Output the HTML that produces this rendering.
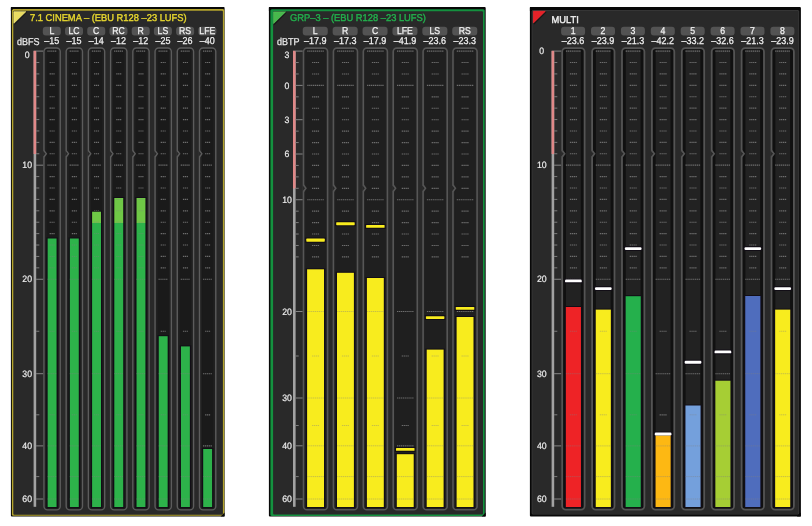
<!DOCTYPE html>
<html><head><meta charset="utf-8"><title>Meters</title>
<style>
html,body{margin:0;padding:0;background:#fff;}
svg{display:block;font-family:"Liberation Sans",sans-serif;text-rendering:geometricPrecision;}
</style></head><body>
<svg width="812" height="526" viewBox="0 0 812 526">
<rect x="10.90" y="7.00" width="213.70" height="509.50" fill="#080808" rx="1"/>
<rect x="11.90" y="8.90" width="212.40" height="506.90" fill="#b4a42c" rx="1.5"/>
<rect x="13.30" y="10.80" width="209.60" height="503.90" fill="#292929" rx="1"/>
<path d="M10.9,7 h4 l-4,4 z M224.6,516.5 h-4 l4,-4 z" fill="#080808"/>
<path d="M26.50,12.10 l-12.2,12.2" stroke="#101010" stroke-width="1.4" fill="none" opacity="0.7"/>
<path d="M13.9,11.7 h11.9 l-11.9,11.6 z" fill="#e9dc62" stroke="#f3ea7a" stroke-width="0.7" stroke-linejoin="round"/>
<text transform="translate(30.00,21.20) scale(0.945,1)" fill="#e6d62e" stroke="#e6d62e" stroke-width="0.4" font-size="9.9" letter-spacing="0" text-anchor="start">7.1 CINEMA – (EBU R128 –23 LUFS)</text>
<text transform="translate(17.00,44.50) scale(0.9,1)" fill="#ececec" stroke="#ececec" stroke-width="0.25" font-size="10" letter-spacing="0" text-anchor="start">dBFS</text>
<rect x="33.60" y="50.80" width="2.60" height="456.00" fill="#a2a2a2"/>
<rect x="33.60" y="50.80" width="2.60" height="103.20" fill="#e08888"/>
<line x1="36.10" y1="51.10" x2="43.25" y2="51.10" stroke="#858585" stroke-width="1" />
<line x1="36.10" y1="62.51" x2="39.30" y2="62.51" stroke="#7c7c7c" stroke-width="1" />
<line x1="36.10" y1="73.92" x2="39.30" y2="73.92" stroke="#7c7c7c" stroke-width="1" />
<line x1="36.10" y1="85.32" x2="39.30" y2="85.32" stroke="#7c7c7c" stroke-width="1" />
<line x1="36.10" y1="96.73" x2="39.30" y2="96.73" stroke="#7c7c7c" stroke-width="1" />
<line x1="36.10" y1="108.14" x2="39.30" y2="108.14" stroke="#7c7c7c" stroke-width="1" />
<line x1="36.10" y1="119.55" x2="39.30" y2="119.55" stroke="#7c7c7c" stroke-width="1" />
<line x1="36.10" y1="130.95" x2="39.30" y2="130.95" stroke="#7c7c7c" stroke-width="1" />
<line x1="36.10" y1="142.36" x2="39.30" y2="142.36" stroke="#7c7c7c" stroke-width="1" />
<line x1="36.10" y1="153.77" x2="39.30" y2="153.77" stroke="#7c7c7c" stroke-width="1" />
<line x1="36.10" y1="165.18" x2="43.25" y2="165.18" stroke="#858585" stroke-width="1" />
<line x1="36.10" y1="176.58" x2="39.30" y2="176.58" stroke="#7c7c7c" stroke-width="1" />
<line x1="36.10" y1="187.99" x2="39.30" y2="187.99" stroke="#7c7c7c" stroke-width="1" />
<line x1="36.10" y1="199.40" x2="39.30" y2="199.40" stroke="#7c7c7c" stroke-width="1" />
<line x1="36.10" y1="210.80" x2="39.30" y2="210.80" stroke="#7c7c7c" stroke-width="1" />
<line x1="36.10" y1="222.21" x2="39.30" y2="222.21" stroke="#7c7c7c" stroke-width="1" />
<line x1="36.10" y1="233.62" x2="39.30" y2="233.62" stroke="#7c7c7c" stroke-width="1" />
<line x1="36.10" y1="245.03" x2="39.30" y2="245.03" stroke="#7c7c7c" stroke-width="1" />
<line x1="36.10" y1="256.44" x2="39.30" y2="256.44" stroke="#7c7c7c" stroke-width="1" />
<line x1="36.10" y1="267.84" x2="39.30" y2="267.84" stroke="#7c7c7c" stroke-width="1" />
<line x1="36.10" y1="279.25" x2="43.25" y2="279.25" stroke="#858585" stroke-width="1" />
<line x1="36.10" y1="331.25" x2="39.30" y2="331.25" stroke="#7c7c7c" stroke-width="1" />
<line x1="36.10" y1="373.70" x2="43.25" y2="373.70" stroke="#858585" stroke-width="1" />
<line x1="36.10" y1="414.80" x2="39.30" y2="414.80" stroke="#7c7c7c" stroke-width="1" />
<line x1="36.10" y1="445.90" x2="43.25" y2="445.90" stroke="#858585" stroke-width="1" />
<line x1="36.10" y1="476.60" x2="39.30" y2="476.60" stroke="#7c7c7c" stroke-width="1" />
<line x1="36.10" y1="499.00" x2="43.25" y2="499.00" stroke="#858585" stroke-width="1" />
<text transform="translate(27.20,58.30) scale(0.95,1)" fill="#ececec" stroke="#ececec" stroke-width="0.2" font-size="9.2" letter-spacing="0" text-anchor="middle">0</text>
<text transform="translate(27.20,168.38) scale(0.95,1)" fill="#ececec" stroke="#ececec" stroke-width="0.2" font-size="9.2" letter-spacing="0" text-anchor="middle">10</text>
<text transform="translate(27.20,282.45) scale(0.95,1)" fill="#ececec" stroke="#ececec" stroke-width="0.2" font-size="9.2" letter-spacing="0" text-anchor="middle">20</text>
<text transform="translate(27.20,376.90) scale(0.95,1)" fill="#ececec" stroke="#ececec" stroke-width="0.2" font-size="9.2" letter-spacing="0" text-anchor="middle">30</text>
<text transform="translate(27.20,449.10) scale(0.95,1)" fill="#ececec" stroke="#ececec" stroke-width="0.2" font-size="9.2" letter-spacing="0" text-anchor="middle">40</text>
<text transform="translate(27.20,502.20) scale(0.95,1)" fill="#ececec" stroke="#ececec" stroke-width="0.2" font-size="9.2" letter-spacing="0" text-anchor="middle">60</text>
<rect x="42.80" y="26.80" width="18.00" height="8.60" fill="#535353" rx="3"/>
<text transform="translate(51.80,34.10) scale(0.88,1)" fill="#f2f2f2" stroke="#f2f2f2" stroke-width="0.25" font-size="9.9" letter-spacing="0" text-anchor="middle">L</text>
<text transform="translate(51.80,44.30) scale(0.9,1)" fill="#f2f2f2" stroke="#f2f2f2" stroke-width="0.25" font-size="10" letter-spacing="0" text-anchor="middle">–15</text>
<rect x="43.95" y="48.00" width="16.30" height="461.90" rx="3.6" fill="#202020" stroke="#5c5c5c" stroke-width="1.4"/>
<rect x="46.50" y="49.00" width="11.20" height="459.90" fill="#1a1a1a" rx="1"/>
<rect x="43.05" y="151.17" width="1.80" height="5.20" fill="#292929"/>
<rect x="44.65" y="151.17" width="1.40" height="5.20" fill="#202020"/>
<path d="M43.95,150.57 l2.4,3.2 l-2.4,3.2" fill="none" stroke="#5c5c5c" stroke-width="1.4"/>
<line x1="47.40" y1="51.10" x2="56.80" y2="51.10" stroke="#6e6e6e" stroke-width="1.15" stroke-dasharray="1.3 0.6"/>
<line x1="49.60" y1="62.51" x2="54.60" y2="62.51" stroke="#6e6e6e" stroke-width="1.15" stroke-dasharray="1.3 0.6"/>
<line x1="49.60" y1="73.92" x2="54.60" y2="73.92" stroke="#6e6e6e" stroke-width="1.15" stroke-dasharray="1.3 0.6"/>
<line x1="49.60" y1="85.32" x2="54.60" y2="85.32" stroke="#6e6e6e" stroke-width="1.15" stroke-dasharray="1.3 0.6"/>
<line x1="49.60" y1="96.73" x2="54.60" y2="96.73" stroke="#6e6e6e" stroke-width="1.15" stroke-dasharray="1.3 0.6"/>
<line x1="49.60" y1="108.14" x2="54.60" y2="108.14" stroke="#6e6e6e" stroke-width="1.15" stroke-dasharray="1.3 0.6"/>
<line x1="49.60" y1="119.55" x2="54.60" y2="119.55" stroke="#6e6e6e" stroke-width="1.15" stroke-dasharray="1.3 0.6"/>
<line x1="49.60" y1="130.95" x2="54.60" y2="130.95" stroke="#6e6e6e" stroke-width="1.15" stroke-dasharray="1.3 0.6"/>
<line x1="49.60" y1="142.36" x2="54.60" y2="142.36" stroke="#6e6e6e" stroke-width="1.15" stroke-dasharray="1.3 0.6"/>
<line x1="49.60" y1="153.77" x2="54.60" y2="153.77" stroke="#6e6e6e" stroke-width="1.15" stroke-dasharray="1.3 0.6"/>
<line x1="47.40" y1="165.18" x2="56.80" y2="165.18" stroke="#6e6e6e" stroke-width="1.15" stroke-dasharray="1.3 0.6"/>
<line x1="49.60" y1="176.58" x2="54.60" y2="176.58" stroke="#6e6e6e" stroke-width="1.15" stroke-dasharray="1.3 0.6"/>
<line x1="49.60" y1="187.99" x2="54.60" y2="187.99" stroke="#6e6e6e" stroke-width="1.15" stroke-dasharray="1.3 0.6"/>
<line x1="49.60" y1="199.40" x2="54.60" y2="199.40" stroke="#6e6e6e" stroke-width="1.15" stroke-dasharray="1.3 0.6"/>
<line x1="49.60" y1="210.80" x2="54.60" y2="210.80" stroke="#6e6e6e" stroke-width="1.15" stroke-dasharray="1.3 0.6"/>
<line x1="49.60" y1="222.21" x2="54.60" y2="222.21" stroke="#6e6e6e" stroke-width="1.15" stroke-dasharray="1.3 0.6"/>
<line x1="49.60" y1="233.62" x2="54.60" y2="233.62" stroke="#6e6e6e" stroke-width="1.15" stroke-dasharray="1.3 0.6"/>
<line x1="49.60" y1="245.03" x2="54.60" y2="245.03" stroke="#6e6e6e" stroke-width="1.15" stroke-dasharray="1.3 0.6"/>
<line x1="49.60" y1="256.44" x2="54.60" y2="256.44" stroke="#6e6e6e" stroke-width="1.15" stroke-dasharray="1.3 0.6"/>
<line x1="49.60" y1="267.84" x2="54.60" y2="267.84" stroke="#6e6e6e" stroke-width="1.15" stroke-dasharray="1.3 0.6"/>
<line x1="47.40" y1="279.25" x2="56.80" y2="279.25" stroke="#6e6e6e" stroke-width="1.15" stroke-dasharray="1.3 0.6"/>
<line x1="49.60" y1="331.25" x2="54.60" y2="331.25" stroke="#6e6e6e" stroke-width="1.15" stroke-dasharray="1.3 0.6"/>
<line x1="47.40" y1="373.70" x2="56.80" y2="373.70" stroke="#6e6e6e" stroke-width="1.15" stroke-dasharray="1.3 0.6"/>
<line x1="49.60" y1="414.80" x2="54.60" y2="414.80" stroke="#6e6e6e" stroke-width="1.15" stroke-dasharray="1.3 0.6"/>
<line x1="47.40" y1="445.90" x2="56.80" y2="445.90" stroke="#6e6e6e" stroke-width="1.15" stroke-dasharray="1.3 0.6"/>
<line x1="47.40" y1="476.60" x2="56.80" y2="476.60" stroke="#6e6e6e" stroke-width="1.15" stroke-dasharray="1.3 0.6"/>
<line x1="47.40" y1="499.00" x2="56.80" y2="499.00" stroke="#6e6e6e" stroke-width="1.15" stroke-dasharray="1.3 0.6"/>
<rect x="46.35" y="237.50" width="11.50" height="270.50" fill="#120e16"/>
<rect x="47.65" y="238.50" width="8.90" height="268.50" fill="#2db24a"/>
<line x1="49.60" y1="245.03" x2="54.60" y2="245.03" stroke="#808080" stroke-width="1" stroke-dasharray="1.3 0.6" opacity="0.4"/>
<line x1="49.60" y1="256.44" x2="54.60" y2="256.44" stroke="#808080" stroke-width="1" stroke-dasharray="1.3 0.6" opacity="0.4"/>
<line x1="49.60" y1="267.84" x2="54.60" y2="267.84" stroke="#808080" stroke-width="1" stroke-dasharray="1.3 0.6" opacity="0.4"/>
<line x1="47.40" y1="279.25" x2="56.80" y2="279.25" stroke="#808080" stroke-width="1" stroke-dasharray="1.3 0.6" opacity="0.4"/>
<line x1="49.60" y1="331.25" x2="54.60" y2="331.25" stroke="#808080" stroke-width="1" stroke-dasharray="1.3 0.6" opacity="0.4"/>
<line x1="47.40" y1="373.70" x2="56.80" y2="373.70" stroke="#808080" stroke-width="1" stroke-dasharray="1.3 0.6" opacity="0.4"/>
<line x1="49.60" y1="414.80" x2="54.60" y2="414.80" stroke="#808080" stroke-width="1" stroke-dasharray="1.3 0.6" opacity="0.4"/>
<line x1="47.40" y1="445.90" x2="56.80" y2="445.90" stroke="#808080" stroke-width="1" stroke-dasharray="1.3 0.6" opacity="0.4"/>
<line x1="47.40" y1="476.60" x2="56.80" y2="476.60" stroke="#808080" stroke-width="1" stroke-dasharray="1.3 0.6" opacity="0.4"/>
<line x1="47.40" y1="499.00" x2="56.80" y2="499.00" stroke="#808080" stroke-width="1" stroke-dasharray="1.3 0.6" opacity="0.4"/>
<rect x="65.02" y="26.80" width="18.00" height="8.60" fill="#535353" rx="3"/>
<text transform="translate(74.02,34.10) scale(0.88,1)" fill="#f2f2f2" stroke="#f2f2f2" stroke-width="0.25" font-size="9.9" letter-spacing="0" text-anchor="middle">LC</text>
<text transform="translate(74.02,44.30) scale(0.9,1)" fill="#f2f2f2" stroke="#f2f2f2" stroke-width="0.25" font-size="10" letter-spacing="0" text-anchor="middle">–15</text>
<rect x="66.17" y="48.00" width="16.30" height="461.90" rx="3.6" fill="#202020" stroke="#5c5c5c" stroke-width="1.4"/>
<rect x="68.72" y="49.00" width="11.20" height="459.90" fill="#1a1a1a" rx="1"/>
<rect x="65.27" y="151.17" width="1.80" height="5.20" fill="#292929"/>
<rect x="66.87" y="151.17" width="1.40" height="5.20" fill="#202020"/>
<path d="M66.17,150.57 l2.4,3.2 l-2.4,3.2" fill="none" stroke="#5c5c5c" stroke-width="1.4"/>
<line x1="69.62" y1="51.10" x2="79.02" y2="51.10" stroke="#6e6e6e" stroke-width="1.15" stroke-dasharray="1.3 0.6"/>
<line x1="71.82" y1="62.51" x2="76.82" y2="62.51" stroke="#6e6e6e" stroke-width="1.15" stroke-dasharray="1.3 0.6"/>
<line x1="71.82" y1="73.92" x2="76.82" y2="73.92" stroke="#6e6e6e" stroke-width="1.15" stroke-dasharray="1.3 0.6"/>
<line x1="71.82" y1="85.32" x2="76.82" y2="85.32" stroke="#6e6e6e" stroke-width="1.15" stroke-dasharray="1.3 0.6"/>
<line x1="71.82" y1="96.73" x2="76.82" y2="96.73" stroke="#6e6e6e" stroke-width="1.15" stroke-dasharray="1.3 0.6"/>
<line x1="71.82" y1="108.14" x2="76.82" y2="108.14" stroke="#6e6e6e" stroke-width="1.15" stroke-dasharray="1.3 0.6"/>
<line x1="71.82" y1="119.55" x2="76.82" y2="119.55" stroke="#6e6e6e" stroke-width="1.15" stroke-dasharray="1.3 0.6"/>
<line x1="71.82" y1="130.95" x2="76.82" y2="130.95" stroke="#6e6e6e" stroke-width="1.15" stroke-dasharray="1.3 0.6"/>
<line x1="71.82" y1="142.36" x2="76.82" y2="142.36" stroke="#6e6e6e" stroke-width="1.15" stroke-dasharray="1.3 0.6"/>
<line x1="71.82" y1="153.77" x2="76.82" y2="153.77" stroke="#6e6e6e" stroke-width="1.15" stroke-dasharray="1.3 0.6"/>
<line x1="69.62" y1="165.18" x2="79.02" y2="165.18" stroke="#6e6e6e" stroke-width="1.15" stroke-dasharray="1.3 0.6"/>
<line x1="71.82" y1="176.58" x2="76.82" y2="176.58" stroke="#6e6e6e" stroke-width="1.15" stroke-dasharray="1.3 0.6"/>
<line x1="71.82" y1="187.99" x2="76.82" y2="187.99" stroke="#6e6e6e" stroke-width="1.15" stroke-dasharray="1.3 0.6"/>
<line x1="71.82" y1="199.40" x2="76.82" y2="199.40" stroke="#6e6e6e" stroke-width="1.15" stroke-dasharray="1.3 0.6"/>
<line x1="71.82" y1="210.80" x2="76.82" y2="210.80" stroke="#6e6e6e" stroke-width="1.15" stroke-dasharray="1.3 0.6"/>
<line x1="71.82" y1="222.21" x2="76.82" y2="222.21" stroke="#6e6e6e" stroke-width="1.15" stroke-dasharray="1.3 0.6"/>
<line x1="71.82" y1="233.62" x2="76.82" y2="233.62" stroke="#6e6e6e" stroke-width="1.15" stroke-dasharray="1.3 0.6"/>
<line x1="71.82" y1="245.03" x2="76.82" y2="245.03" stroke="#6e6e6e" stroke-width="1.15" stroke-dasharray="1.3 0.6"/>
<line x1="71.82" y1="256.44" x2="76.82" y2="256.44" stroke="#6e6e6e" stroke-width="1.15" stroke-dasharray="1.3 0.6"/>
<line x1="71.82" y1="267.84" x2="76.82" y2="267.84" stroke="#6e6e6e" stroke-width="1.15" stroke-dasharray="1.3 0.6"/>
<line x1="69.62" y1="279.25" x2="79.02" y2="279.25" stroke="#6e6e6e" stroke-width="1.15" stroke-dasharray="1.3 0.6"/>
<line x1="71.82" y1="331.25" x2="76.82" y2="331.25" stroke="#6e6e6e" stroke-width="1.15" stroke-dasharray="1.3 0.6"/>
<line x1="69.62" y1="373.70" x2="79.02" y2="373.70" stroke="#6e6e6e" stroke-width="1.15" stroke-dasharray="1.3 0.6"/>
<line x1="71.82" y1="414.80" x2="76.82" y2="414.80" stroke="#6e6e6e" stroke-width="1.15" stroke-dasharray="1.3 0.6"/>
<line x1="69.62" y1="445.90" x2="79.02" y2="445.90" stroke="#6e6e6e" stroke-width="1.15" stroke-dasharray="1.3 0.6"/>
<line x1="69.62" y1="476.60" x2="79.02" y2="476.60" stroke="#6e6e6e" stroke-width="1.15" stroke-dasharray="1.3 0.6"/>
<line x1="69.62" y1="499.00" x2="79.02" y2="499.00" stroke="#6e6e6e" stroke-width="1.15" stroke-dasharray="1.3 0.6"/>
<rect x="68.57" y="237.50" width="11.50" height="270.50" fill="#120e16"/>
<rect x="69.87" y="238.50" width="8.90" height="268.50" fill="#2db24a"/>
<line x1="71.82" y1="245.03" x2="76.82" y2="245.03" stroke="#808080" stroke-width="1" stroke-dasharray="1.3 0.6" opacity="0.4"/>
<line x1="71.82" y1="256.44" x2="76.82" y2="256.44" stroke="#808080" stroke-width="1" stroke-dasharray="1.3 0.6" opacity="0.4"/>
<line x1="71.82" y1="267.84" x2="76.82" y2="267.84" stroke="#808080" stroke-width="1" stroke-dasharray="1.3 0.6" opacity="0.4"/>
<line x1="69.62" y1="279.25" x2="79.02" y2="279.25" stroke="#808080" stroke-width="1" stroke-dasharray="1.3 0.6" opacity="0.4"/>
<line x1="71.82" y1="331.25" x2="76.82" y2="331.25" stroke="#808080" stroke-width="1" stroke-dasharray="1.3 0.6" opacity="0.4"/>
<line x1="69.62" y1="373.70" x2="79.02" y2="373.70" stroke="#808080" stroke-width="1" stroke-dasharray="1.3 0.6" opacity="0.4"/>
<line x1="71.82" y1="414.80" x2="76.82" y2="414.80" stroke="#808080" stroke-width="1" stroke-dasharray="1.3 0.6" opacity="0.4"/>
<line x1="69.62" y1="445.90" x2="79.02" y2="445.90" stroke="#808080" stroke-width="1" stroke-dasharray="1.3 0.6" opacity="0.4"/>
<line x1="69.62" y1="476.60" x2="79.02" y2="476.60" stroke="#808080" stroke-width="1" stroke-dasharray="1.3 0.6" opacity="0.4"/>
<line x1="69.62" y1="499.00" x2="79.02" y2="499.00" stroke="#808080" stroke-width="1" stroke-dasharray="1.3 0.6" opacity="0.4"/>
<rect x="87.24" y="26.80" width="18.00" height="8.60" fill="#535353" rx="3"/>
<text transform="translate(96.24,34.10) scale(0.88,1)" fill="#f2f2f2" stroke="#f2f2f2" stroke-width="0.25" font-size="9.9" letter-spacing="0" text-anchor="middle">C</text>
<text transform="translate(96.24,44.30) scale(0.9,1)" fill="#f2f2f2" stroke="#f2f2f2" stroke-width="0.25" font-size="10" letter-spacing="0" text-anchor="middle">–14</text>
<rect x="88.39" y="48.00" width="16.30" height="461.90" rx="3.6" fill="#202020" stroke="#5c5c5c" stroke-width="1.4"/>
<rect x="90.94" y="49.00" width="11.20" height="459.90" fill="#1a1a1a" rx="1"/>
<rect x="87.49" y="151.17" width="1.80" height="5.20" fill="#292929"/>
<rect x="89.09" y="151.17" width="1.40" height="5.20" fill="#202020"/>
<path d="M88.39,150.57 l2.4,3.2 l-2.4,3.2" fill="none" stroke="#5c5c5c" stroke-width="1.4"/>
<line x1="91.84" y1="51.10" x2="101.24" y2="51.10" stroke="#6e6e6e" stroke-width="1.15" stroke-dasharray="1.3 0.6"/>
<line x1="94.04" y1="62.51" x2="99.04" y2="62.51" stroke="#6e6e6e" stroke-width="1.15" stroke-dasharray="1.3 0.6"/>
<line x1="94.04" y1="73.92" x2="99.04" y2="73.92" stroke="#6e6e6e" stroke-width="1.15" stroke-dasharray="1.3 0.6"/>
<line x1="94.04" y1="85.32" x2="99.04" y2="85.32" stroke="#6e6e6e" stroke-width="1.15" stroke-dasharray="1.3 0.6"/>
<line x1="94.04" y1="96.73" x2="99.04" y2="96.73" stroke="#6e6e6e" stroke-width="1.15" stroke-dasharray="1.3 0.6"/>
<line x1="94.04" y1="108.14" x2="99.04" y2="108.14" stroke="#6e6e6e" stroke-width="1.15" stroke-dasharray="1.3 0.6"/>
<line x1="94.04" y1="119.55" x2="99.04" y2="119.55" stroke="#6e6e6e" stroke-width="1.15" stroke-dasharray="1.3 0.6"/>
<line x1="94.04" y1="130.95" x2="99.04" y2="130.95" stroke="#6e6e6e" stroke-width="1.15" stroke-dasharray="1.3 0.6"/>
<line x1="94.04" y1="142.36" x2="99.04" y2="142.36" stroke="#6e6e6e" stroke-width="1.15" stroke-dasharray="1.3 0.6"/>
<line x1="94.04" y1="153.77" x2="99.04" y2="153.77" stroke="#6e6e6e" stroke-width="1.15" stroke-dasharray="1.3 0.6"/>
<line x1="91.84" y1="165.18" x2="101.24" y2="165.18" stroke="#6e6e6e" stroke-width="1.15" stroke-dasharray="1.3 0.6"/>
<line x1="94.04" y1="176.58" x2="99.04" y2="176.58" stroke="#6e6e6e" stroke-width="1.15" stroke-dasharray="1.3 0.6"/>
<line x1="94.04" y1="187.99" x2="99.04" y2="187.99" stroke="#6e6e6e" stroke-width="1.15" stroke-dasharray="1.3 0.6"/>
<line x1="94.04" y1="199.40" x2="99.04" y2="199.40" stroke="#6e6e6e" stroke-width="1.15" stroke-dasharray="1.3 0.6"/>
<line x1="94.04" y1="210.80" x2="99.04" y2="210.80" stroke="#6e6e6e" stroke-width="1.15" stroke-dasharray="1.3 0.6"/>
<line x1="94.04" y1="222.21" x2="99.04" y2="222.21" stroke="#6e6e6e" stroke-width="1.15" stroke-dasharray="1.3 0.6"/>
<line x1="94.04" y1="233.62" x2="99.04" y2="233.62" stroke="#6e6e6e" stroke-width="1.15" stroke-dasharray="1.3 0.6"/>
<line x1="94.04" y1="245.03" x2="99.04" y2="245.03" stroke="#6e6e6e" stroke-width="1.15" stroke-dasharray="1.3 0.6"/>
<line x1="94.04" y1="256.44" x2="99.04" y2="256.44" stroke="#6e6e6e" stroke-width="1.15" stroke-dasharray="1.3 0.6"/>
<line x1="94.04" y1="267.84" x2="99.04" y2="267.84" stroke="#6e6e6e" stroke-width="1.15" stroke-dasharray="1.3 0.6"/>
<line x1="91.84" y1="279.25" x2="101.24" y2="279.25" stroke="#6e6e6e" stroke-width="1.15" stroke-dasharray="1.3 0.6"/>
<line x1="94.04" y1="331.25" x2="99.04" y2="331.25" stroke="#6e6e6e" stroke-width="1.15" stroke-dasharray="1.3 0.6"/>
<line x1="91.84" y1="373.70" x2="101.24" y2="373.70" stroke="#6e6e6e" stroke-width="1.15" stroke-dasharray="1.3 0.6"/>
<line x1="94.04" y1="414.80" x2="99.04" y2="414.80" stroke="#6e6e6e" stroke-width="1.15" stroke-dasharray="1.3 0.6"/>
<line x1="91.84" y1="445.90" x2="101.24" y2="445.90" stroke="#6e6e6e" stroke-width="1.15" stroke-dasharray="1.3 0.6"/>
<line x1="91.84" y1="476.60" x2="101.24" y2="476.60" stroke="#6e6e6e" stroke-width="1.15" stroke-dasharray="1.3 0.6"/>
<line x1="91.84" y1="499.00" x2="101.24" y2="499.00" stroke="#6e6e6e" stroke-width="1.15" stroke-dasharray="1.3 0.6"/>
<rect x="90.79" y="210.70" width="11.50" height="297.30" fill="#120e16"/>
<rect x="92.09" y="211.70" width="8.90" height="11.30" fill="#6fc846"/>
<rect x="92.09" y="223.00" width="8.90" height="284.00" fill="#2db24a"/>
<line x1="94.04" y1="222.21" x2="99.04" y2="222.21" stroke="#808080" stroke-width="1" stroke-dasharray="1.3 0.6" opacity="0.4"/>
<line x1="94.04" y1="233.62" x2="99.04" y2="233.62" stroke="#808080" stroke-width="1" stroke-dasharray="1.3 0.6" opacity="0.4"/>
<line x1="94.04" y1="245.03" x2="99.04" y2="245.03" stroke="#808080" stroke-width="1" stroke-dasharray="1.3 0.6" opacity="0.4"/>
<line x1="94.04" y1="256.44" x2="99.04" y2="256.44" stroke="#808080" stroke-width="1" stroke-dasharray="1.3 0.6" opacity="0.4"/>
<line x1="94.04" y1="267.84" x2="99.04" y2="267.84" stroke="#808080" stroke-width="1" stroke-dasharray="1.3 0.6" opacity="0.4"/>
<line x1="91.84" y1="279.25" x2="101.24" y2="279.25" stroke="#808080" stroke-width="1" stroke-dasharray="1.3 0.6" opacity="0.4"/>
<line x1="94.04" y1="331.25" x2="99.04" y2="331.25" stroke="#808080" stroke-width="1" stroke-dasharray="1.3 0.6" opacity="0.4"/>
<line x1="91.84" y1="373.70" x2="101.24" y2="373.70" stroke="#808080" stroke-width="1" stroke-dasharray="1.3 0.6" opacity="0.4"/>
<line x1="94.04" y1="414.80" x2="99.04" y2="414.80" stroke="#808080" stroke-width="1" stroke-dasharray="1.3 0.6" opacity="0.4"/>
<line x1="91.84" y1="445.90" x2="101.24" y2="445.90" stroke="#808080" stroke-width="1" stroke-dasharray="1.3 0.6" opacity="0.4"/>
<line x1="91.84" y1="476.60" x2="101.24" y2="476.60" stroke="#808080" stroke-width="1" stroke-dasharray="1.3 0.6" opacity="0.4"/>
<line x1="91.84" y1="499.00" x2="101.24" y2="499.00" stroke="#808080" stroke-width="1" stroke-dasharray="1.3 0.6" opacity="0.4"/>
<rect x="109.46" y="26.80" width="18.00" height="8.60" fill="#535353" rx="3"/>
<text transform="translate(118.46,34.10) scale(0.88,1)" fill="#f2f2f2" stroke="#f2f2f2" stroke-width="0.25" font-size="9.9" letter-spacing="0" text-anchor="middle">RC</text>
<text transform="translate(118.46,44.30) scale(0.9,1)" fill="#f2f2f2" stroke="#f2f2f2" stroke-width="0.25" font-size="10" letter-spacing="0" text-anchor="middle">–12</text>
<rect x="110.61" y="48.00" width="16.30" height="461.90" rx="3.6" fill="#202020" stroke="#5c5c5c" stroke-width="1.4"/>
<rect x="113.16" y="49.00" width="11.20" height="459.90" fill="#1a1a1a" rx="1"/>
<rect x="109.71" y="151.17" width="1.80" height="5.20" fill="#292929"/>
<rect x="111.31" y="151.17" width="1.40" height="5.20" fill="#202020"/>
<path d="M110.61,150.57 l2.4,3.2 l-2.4,3.2" fill="none" stroke="#5c5c5c" stroke-width="1.4"/>
<line x1="114.06" y1="51.10" x2="123.46" y2="51.10" stroke="#6e6e6e" stroke-width="1.15" stroke-dasharray="1.3 0.6"/>
<line x1="116.26" y1="62.51" x2="121.26" y2="62.51" stroke="#6e6e6e" stroke-width="1.15" stroke-dasharray="1.3 0.6"/>
<line x1="116.26" y1="73.92" x2="121.26" y2="73.92" stroke="#6e6e6e" stroke-width="1.15" stroke-dasharray="1.3 0.6"/>
<line x1="116.26" y1="85.32" x2="121.26" y2="85.32" stroke="#6e6e6e" stroke-width="1.15" stroke-dasharray="1.3 0.6"/>
<line x1="116.26" y1="96.73" x2="121.26" y2="96.73" stroke="#6e6e6e" stroke-width="1.15" stroke-dasharray="1.3 0.6"/>
<line x1="116.26" y1="108.14" x2="121.26" y2="108.14" stroke="#6e6e6e" stroke-width="1.15" stroke-dasharray="1.3 0.6"/>
<line x1="116.26" y1="119.55" x2="121.26" y2="119.55" stroke="#6e6e6e" stroke-width="1.15" stroke-dasharray="1.3 0.6"/>
<line x1="116.26" y1="130.95" x2="121.26" y2="130.95" stroke="#6e6e6e" stroke-width="1.15" stroke-dasharray="1.3 0.6"/>
<line x1="116.26" y1="142.36" x2="121.26" y2="142.36" stroke="#6e6e6e" stroke-width="1.15" stroke-dasharray="1.3 0.6"/>
<line x1="116.26" y1="153.77" x2="121.26" y2="153.77" stroke="#6e6e6e" stroke-width="1.15" stroke-dasharray="1.3 0.6"/>
<line x1="114.06" y1="165.18" x2="123.46" y2="165.18" stroke="#6e6e6e" stroke-width="1.15" stroke-dasharray="1.3 0.6"/>
<line x1="116.26" y1="176.58" x2="121.26" y2="176.58" stroke="#6e6e6e" stroke-width="1.15" stroke-dasharray="1.3 0.6"/>
<line x1="116.26" y1="187.99" x2="121.26" y2="187.99" stroke="#6e6e6e" stroke-width="1.15" stroke-dasharray="1.3 0.6"/>
<line x1="116.26" y1="199.40" x2="121.26" y2="199.40" stroke="#6e6e6e" stroke-width="1.15" stroke-dasharray="1.3 0.6"/>
<line x1="116.26" y1="210.80" x2="121.26" y2="210.80" stroke="#6e6e6e" stroke-width="1.15" stroke-dasharray="1.3 0.6"/>
<line x1="116.26" y1="222.21" x2="121.26" y2="222.21" stroke="#6e6e6e" stroke-width="1.15" stroke-dasharray="1.3 0.6"/>
<line x1="116.26" y1="233.62" x2="121.26" y2="233.62" stroke="#6e6e6e" stroke-width="1.15" stroke-dasharray="1.3 0.6"/>
<line x1="116.26" y1="245.03" x2="121.26" y2="245.03" stroke="#6e6e6e" stroke-width="1.15" stroke-dasharray="1.3 0.6"/>
<line x1="116.26" y1="256.44" x2="121.26" y2="256.44" stroke="#6e6e6e" stroke-width="1.15" stroke-dasharray="1.3 0.6"/>
<line x1="116.26" y1="267.84" x2="121.26" y2="267.84" stroke="#6e6e6e" stroke-width="1.15" stroke-dasharray="1.3 0.6"/>
<line x1="114.06" y1="279.25" x2="123.46" y2="279.25" stroke="#6e6e6e" stroke-width="1.15" stroke-dasharray="1.3 0.6"/>
<line x1="116.26" y1="331.25" x2="121.26" y2="331.25" stroke="#6e6e6e" stroke-width="1.15" stroke-dasharray="1.3 0.6"/>
<line x1="114.06" y1="373.70" x2="123.46" y2="373.70" stroke="#6e6e6e" stroke-width="1.15" stroke-dasharray="1.3 0.6"/>
<line x1="116.26" y1="414.80" x2="121.26" y2="414.80" stroke="#6e6e6e" stroke-width="1.15" stroke-dasharray="1.3 0.6"/>
<line x1="114.06" y1="445.90" x2="123.46" y2="445.90" stroke="#6e6e6e" stroke-width="1.15" stroke-dasharray="1.3 0.6"/>
<line x1="114.06" y1="476.60" x2="123.46" y2="476.60" stroke="#6e6e6e" stroke-width="1.15" stroke-dasharray="1.3 0.6"/>
<line x1="114.06" y1="499.00" x2="123.46" y2="499.00" stroke="#6e6e6e" stroke-width="1.15" stroke-dasharray="1.3 0.6"/>
<rect x="113.01" y="197.00" width="11.50" height="311.00" fill="#120e16"/>
<rect x="114.31" y="198.00" width="8.90" height="25.00" fill="#6fc846"/>
<rect x="114.31" y="223.00" width="8.90" height="284.00" fill="#2db24a"/>
<line x1="116.26" y1="199.40" x2="121.26" y2="199.40" stroke="#808080" stroke-width="1" stroke-dasharray="1.3 0.6" opacity="0.4"/>
<line x1="116.26" y1="210.80" x2="121.26" y2="210.80" stroke="#808080" stroke-width="1" stroke-dasharray="1.3 0.6" opacity="0.4"/>
<line x1="116.26" y1="222.21" x2="121.26" y2="222.21" stroke="#808080" stroke-width="1" stroke-dasharray="1.3 0.6" opacity="0.4"/>
<line x1="116.26" y1="233.62" x2="121.26" y2="233.62" stroke="#808080" stroke-width="1" stroke-dasharray="1.3 0.6" opacity="0.4"/>
<line x1="116.26" y1="245.03" x2="121.26" y2="245.03" stroke="#808080" stroke-width="1" stroke-dasharray="1.3 0.6" opacity="0.4"/>
<line x1="116.26" y1="256.44" x2="121.26" y2="256.44" stroke="#808080" stroke-width="1" stroke-dasharray="1.3 0.6" opacity="0.4"/>
<line x1="116.26" y1="267.84" x2="121.26" y2="267.84" stroke="#808080" stroke-width="1" stroke-dasharray="1.3 0.6" opacity="0.4"/>
<line x1="114.06" y1="279.25" x2="123.46" y2="279.25" stroke="#808080" stroke-width="1" stroke-dasharray="1.3 0.6" opacity="0.4"/>
<line x1="116.26" y1="331.25" x2="121.26" y2="331.25" stroke="#808080" stroke-width="1" stroke-dasharray="1.3 0.6" opacity="0.4"/>
<line x1="114.06" y1="373.70" x2="123.46" y2="373.70" stroke="#808080" stroke-width="1" stroke-dasharray="1.3 0.6" opacity="0.4"/>
<line x1="116.26" y1="414.80" x2="121.26" y2="414.80" stroke="#808080" stroke-width="1" stroke-dasharray="1.3 0.6" opacity="0.4"/>
<line x1="114.06" y1="445.90" x2="123.46" y2="445.90" stroke="#808080" stroke-width="1" stroke-dasharray="1.3 0.6" opacity="0.4"/>
<line x1="114.06" y1="476.60" x2="123.46" y2="476.60" stroke="#808080" stroke-width="1" stroke-dasharray="1.3 0.6" opacity="0.4"/>
<line x1="114.06" y1="499.00" x2="123.46" y2="499.00" stroke="#808080" stroke-width="1" stroke-dasharray="1.3 0.6" opacity="0.4"/>
<rect x="131.68" y="26.80" width="18.00" height="8.60" fill="#535353" rx="3"/>
<text transform="translate(140.68,34.10) scale(0.88,1)" fill="#f2f2f2" stroke="#f2f2f2" stroke-width="0.25" font-size="9.9" letter-spacing="0" text-anchor="middle">R</text>
<text transform="translate(140.68,44.30) scale(0.9,1)" fill="#f2f2f2" stroke="#f2f2f2" stroke-width="0.25" font-size="10" letter-spacing="0" text-anchor="middle">–12</text>
<rect x="132.83" y="48.00" width="16.30" height="461.90" rx="3.6" fill="#202020" stroke="#5c5c5c" stroke-width="1.4"/>
<rect x="135.38" y="49.00" width="11.20" height="459.90" fill="#1a1a1a" rx="1"/>
<rect x="131.93" y="151.17" width="1.80" height="5.20" fill="#292929"/>
<rect x="133.53" y="151.17" width="1.40" height="5.20" fill="#202020"/>
<path d="M132.83,150.57 l2.4,3.2 l-2.4,3.2" fill="none" stroke="#5c5c5c" stroke-width="1.4"/>
<line x1="136.28" y1="51.10" x2="145.68" y2="51.10" stroke="#6e6e6e" stroke-width="1.15" stroke-dasharray="1.3 0.6"/>
<line x1="138.48" y1="62.51" x2="143.48" y2="62.51" stroke="#6e6e6e" stroke-width="1.15" stroke-dasharray="1.3 0.6"/>
<line x1="138.48" y1="73.92" x2="143.48" y2="73.92" stroke="#6e6e6e" stroke-width="1.15" stroke-dasharray="1.3 0.6"/>
<line x1="138.48" y1="85.32" x2="143.48" y2="85.32" stroke="#6e6e6e" stroke-width="1.15" stroke-dasharray="1.3 0.6"/>
<line x1="138.48" y1="96.73" x2="143.48" y2="96.73" stroke="#6e6e6e" stroke-width="1.15" stroke-dasharray="1.3 0.6"/>
<line x1="138.48" y1="108.14" x2="143.48" y2="108.14" stroke="#6e6e6e" stroke-width="1.15" stroke-dasharray="1.3 0.6"/>
<line x1="138.48" y1="119.55" x2="143.48" y2="119.55" stroke="#6e6e6e" stroke-width="1.15" stroke-dasharray="1.3 0.6"/>
<line x1="138.48" y1="130.95" x2="143.48" y2="130.95" stroke="#6e6e6e" stroke-width="1.15" stroke-dasharray="1.3 0.6"/>
<line x1="138.48" y1="142.36" x2="143.48" y2="142.36" stroke="#6e6e6e" stroke-width="1.15" stroke-dasharray="1.3 0.6"/>
<line x1="138.48" y1="153.77" x2="143.48" y2="153.77" stroke="#6e6e6e" stroke-width="1.15" stroke-dasharray="1.3 0.6"/>
<line x1="136.28" y1="165.18" x2="145.68" y2="165.18" stroke="#6e6e6e" stroke-width="1.15" stroke-dasharray="1.3 0.6"/>
<line x1="138.48" y1="176.58" x2="143.48" y2="176.58" stroke="#6e6e6e" stroke-width="1.15" stroke-dasharray="1.3 0.6"/>
<line x1="138.48" y1="187.99" x2="143.48" y2="187.99" stroke="#6e6e6e" stroke-width="1.15" stroke-dasharray="1.3 0.6"/>
<line x1="138.48" y1="199.40" x2="143.48" y2="199.40" stroke="#6e6e6e" stroke-width="1.15" stroke-dasharray="1.3 0.6"/>
<line x1="138.48" y1="210.80" x2="143.48" y2="210.80" stroke="#6e6e6e" stroke-width="1.15" stroke-dasharray="1.3 0.6"/>
<line x1="138.48" y1="222.21" x2="143.48" y2="222.21" stroke="#6e6e6e" stroke-width="1.15" stroke-dasharray="1.3 0.6"/>
<line x1="138.48" y1="233.62" x2="143.48" y2="233.62" stroke="#6e6e6e" stroke-width="1.15" stroke-dasharray="1.3 0.6"/>
<line x1="138.48" y1="245.03" x2="143.48" y2="245.03" stroke="#6e6e6e" stroke-width="1.15" stroke-dasharray="1.3 0.6"/>
<line x1="138.48" y1="256.44" x2="143.48" y2="256.44" stroke="#6e6e6e" stroke-width="1.15" stroke-dasharray="1.3 0.6"/>
<line x1="138.48" y1="267.84" x2="143.48" y2="267.84" stroke="#6e6e6e" stroke-width="1.15" stroke-dasharray="1.3 0.6"/>
<line x1="136.28" y1="279.25" x2="145.68" y2="279.25" stroke="#6e6e6e" stroke-width="1.15" stroke-dasharray="1.3 0.6"/>
<line x1="138.48" y1="331.25" x2="143.48" y2="331.25" stroke="#6e6e6e" stroke-width="1.15" stroke-dasharray="1.3 0.6"/>
<line x1="136.28" y1="373.70" x2="145.68" y2="373.70" stroke="#6e6e6e" stroke-width="1.15" stroke-dasharray="1.3 0.6"/>
<line x1="138.48" y1="414.80" x2="143.48" y2="414.80" stroke="#6e6e6e" stroke-width="1.15" stroke-dasharray="1.3 0.6"/>
<line x1="136.28" y1="445.90" x2="145.68" y2="445.90" stroke="#6e6e6e" stroke-width="1.15" stroke-dasharray="1.3 0.6"/>
<line x1="136.28" y1="476.60" x2="145.68" y2="476.60" stroke="#6e6e6e" stroke-width="1.15" stroke-dasharray="1.3 0.6"/>
<line x1="136.28" y1="499.00" x2="145.68" y2="499.00" stroke="#6e6e6e" stroke-width="1.15" stroke-dasharray="1.3 0.6"/>
<rect x="135.23" y="197.00" width="11.50" height="311.00" fill="#120e16"/>
<rect x="136.53" y="198.00" width="8.90" height="25.00" fill="#6fc846"/>
<rect x="136.53" y="223.00" width="8.90" height="284.00" fill="#2db24a"/>
<line x1="138.48" y1="199.40" x2="143.48" y2="199.40" stroke="#808080" stroke-width="1" stroke-dasharray="1.3 0.6" opacity="0.4"/>
<line x1="138.48" y1="210.80" x2="143.48" y2="210.80" stroke="#808080" stroke-width="1" stroke-dasharray="1.3 0.6" opacity="0.4"/>
<line x1="138.48" y1="222.21" x2="143.48" y2="222.21" stroke="#808080" stroke-width="1" stroke-dasharray="1.3 0.6" opacity="0.4"/>
<line x1="138.48" y1="233.62" x2="143.48" y2="233.62" stroke="#808080" stroke-width="1" stroke-dasharray="1.3 0.6" opacity="0.4"/>
<line x1="138.48" y1="245.03" x2="143.48" y2="245.03" stroke="#808080" stroke-width="1" stroke-dasharray="1.3 0.6" opacity="0.4"/>
<line x1="138.48" y1="256.44" x2="143.48" y2="256.44" stroke="#808080" stroke-width="1" stroke-dasharray="1.3 0.6" opacity="0.4"/>
<line x1="138.48" y1="267.84" x2="143.48" y2="267.84" stroke="#808080" stroke-width="1" stroke-dasharray="1.3 0.6" opacity="0.4"/>
<line x1="136.28" y1="279.25" x2="145.68" y2="279.25" stroke="#808080" stroke-width="1" stroke-dasharray="1.3 0.6" opacity="0.4"/>
<line x1="138.48" y1="331.25" x2="143.48" y2="331.25" stroke="#808080" stroke-width="1" stroke-dasharray="1.3 0.6" opacity="0.4"/>
<line x1="136.28" y1="373.70" x2="145.68" y2="373.70" stroke="#808080" stroke-width="1" stroke-dasharray="1.3 0.6" opacity="0.4"/>
<line x1="138.48" y1="414.80" x2="143.48" y2="414.80" stroke="#808080" stroke-width="1" stroke-dasharray="1.3 0.6" opacity="0.4"/>
<line x1="136.28" y1="445.90" x2="145.68" y2="445.90" stroke="#808080" stroke-width="1" stroke-dasharray="1.3 0.6" opacity="0.4"/>
<line x1="136.28" y1="476.60" x2="145.68" y2="476.60" stroke="#808080" stroke-width="1" stroke-dasharray="1.3 0.6" opacity="0.4"/>
<line x1="136.28" y1="499.00" x2="145.68" y2="499.00" stroke="#808080" stroke-width="1" stroke-dasharray="1.3 0.6" opacity="0.4"/>
<rect x="153.90" y="26.80" width="18.00" height="8.60" fill="#535353" rx="3"/>
<text transform="translate(162.90,34.10) scale(0.88,1)" fill="#f2f2f2" stroke="#f2f2f2" stroke-width="0.25" font-size="9.9" letter-spacing="0" text-anchor="middle">LS</text>
<text transform="translate(162.90,44.30) scale(0.9,1)" fill="#f2f2f2" stroke="#f2f2f2" stroke-width="0.25" font-size="10" letter-spacing="0" text-anchor="middle">–25</text>
<rect x="155.05" y="48.00" width="16.30" height="461.90" rx="3.6" fill="#202020" stroke="#5c5c5c" stroke-width="1.4"/>
<rect x="157.60" y="49.00" width="11.20" height="459.90" fill="#1a1a1a" rx="1"/>
<rect x="154.15" y="151.17" width="1.80" height="5.20" fill="#292929"/>
<rect x="155.75" y="151.17" width="1.40" height="5.20" fill="#202020"/>
<path d="M155.05,150.57 l2.4,3.2 l-2.4,3.2" fill="none" stroke="#5c5c5c" stroke-width="1.4"/>
<line x1="158.50" y1="51.10" x2="167.90" y2="51.10" stroke="#6e6e6e" stroke-width="1.15" stroke-dasharray="1.3 0.6"/>
<line x1="160.70" y1="62.51" x2="165.70" y2="62.51" stroke="#6e6e6e" stroke-width="1.15" stroke-dasharray="1.3 0.6"/>
<line x1="160.70" y1="73.92" x2="165.70" y2="73.92" stroke="#6e6e6e" stroke-width="1.15" stroke-dasharray="1.3 0.6"/>
<line x1="160.70" y1="85.32" x2="165.70" y2="85.32" stroke="#6e6e6e" stroke-width="1.15" stroke-dasharray="1.3 0.6"/>
<line x1="160.70" y1="96.73" x2="165.70" y2="96.73" stroke="#6e6e6e" stroke-width="1.15" stroke-dasharray="1.3 0.6"/>
<line x1="160.70" y1="108.14" x2="165.70" y2="108.14" stroke="#6e6e6e" stroke-width="1.15" stroke-dasharray="1.3 0.6"/>
<line x1="160.70" y1="119.55" x2="165.70" y2="119.55" stroke="#6e6e6e" stroke-width="1.15" stroke-dasharray="1.3 0.6"/>
<line x1="160.70" y1="130.95" x2="165.70" y2="130.95" stroke="#6e6e6e" stroke-width="1.15" stroke-dasharray="1.3 0.6"/>
<line x1="160.70" y1="142.36" x2="165.70" y2="142.36" stroke="#6e6e6e" stroke-width="1.15" stroke-dasharray="1.3 0.6"/>
<line x1="160.70" y1="153.77" x2="165.70" y2="153.77" stroke="#6e6e6e" stroke-width="1.15" stroke-dasharray="1.3 0.6"/>
<line x1="158.50" y1="165.18" x2="167.90" y2="165.18" stroke="#6e6e6e" stroke-width="1.15" stroke-dasharray="1.3 0.6"/>
<line x1="160.70" y1="176.58" x2="165.70" y2="176.58" stroke="#6e6e6e" stroke-width="1.15" stroke-dasharray="1.3 0.6"/>
<line x1="160.70" y1="187.99" x2="165.70" y2="187.99" stroke="#6e6e6e" stroke-width="1.15" stroke-dasharray="1.3 0.6"/>
<line x1="160.70" y1="199.40" x2="165.70" y2="199.40" stroke="#6e6e6e" stroke-width="1.15" stroke-dasharray="1.3 0.6"/>
<line x1="160.70" y1="210.80" x2="165.70" y2="210.80" stroke="#6e6e6e" stroke-width="1.15" stroke-dasharray="1.3 0.6"/>
<line x1="160.70" y1="222.21" x2="165.70" y2="222.21" stroke="#6e6e6e" stroke-width="1.15" stroke-dasharray="1.3 0.6"/>
<line x1="160.70" y1="233.62" x2="165.70" y2="233.62" stroke="#6e6e6e" stroke-width="1.15" stroke-dasharray="1.3 0.6"/>
<line x1="160.70" y1="245.03" x2="165.70" y2="245.03" stroke="#6e6e6e" stroke-width="1.15" stroke-dasharray="1.3 0.6"/>
<line x1="160.70" y1="256.44" x2="165.70" y2="256.44" stroke="#6e6e6e" stroke-width="1.15" stroke-dasharray="1.3 0.6"/>
<line x1="160.70" y1="267.84" x2="165.70" y2="267.84" stroke="#6e6e6e" stroke-width="1.15" stroke-dasharray="1.3 0.6"/>
<line x1="158.50" y1="279.25" x2="167.90" y2="279.25" stroke="#6e6e6e" stroke-width="1.15" stroke-dasharray="1.3 0.6"/>
<line x1="160.70" y1="331.25" x2="165.70" y2="331.25" stroke="#6e6e6e" stroke-width="1.15" stroke-dasharray="1.3 0.6"/>
<line x1="158.50" y1="373.70" x2="167.90" y2="373.70" stroke="#6e6e6e" stroke-width="1.15" stroke-dasharray="1.3 0.6"/>
<line x1="160.70" y1="414.80" x2="165.70" y2="414.80" stroke="#6e6e6e" stroke-width="1.15" stroke-dasharray="1.3 0.6"/>
<line x1="158.50" y1="445.90" x2="167.90" y2="445.90" stroke="#6e6e6e" stroke-width="1.15" stroke-dasharray="1.3 0.6"/>
<line x1="158.50" y1="476.60" x2="167.90" y2="476.60" stroke="#6e6e6e" stroke-width="1.15" stroke-dasharray="1.3 0.6"/>
<line x1="158.50" y1="499.00" x2="167.90" y2="499.00" stroke="#6e6e6e" stroke-width="1.15" stroke-dasharray="1.3 0.6"/>
<rect x="157.45" y="335.20" width="11.50" height="172.80" fill="#120e16"/>
<rect x="158.75" y="336.20" width="8.90" height="170.80" fill="#2db24a"/>
<line x1="158.50" y1="373.70" x2="167.90" y2="373.70" stroke="#808080" stroke-width="1" stroke-dasharray="1.3 0.6" opacity="0.4"/>
<line x1="160.70" y1="414.80" x2="165.70" y2="414.80" stroke="#808080" stroke-width="1" stroke-dasharray="1.3 0.6" opacity="0.4"/>
<line x1="158.50" y1="445.90" x2="167.90" y2="445.90" stroke="#808080" stroke-width="1" stroke-dasharray="1.3 0.6" opacity="0.4"/>
<line x1="158.50" y1="476.60" x2="167.90" y2="476.60" stroke="#808080" stroke-width="1" stroke-dasharray="1.3 0.6" opacity="0.4"/>
<line x1="158.50" y1="499.00" x2="167.90" y2="499.00" stroke="#808080" stroke-width="1" stroke-dasharray="1.3 0.6" opacity="0.4"/>
<rect x="176.12" y="26.80" width="18.00" height="8.60" fill="#535353" rx="3"/>
<text transform="translate(185.12,34.10) scale(0.88,1)" fill="#f2f2f2" stroke="#f2f2f2" stroke-width="0.25" font-size="9.9" letter-spacing="0" text-anchor="middle">RS</text>
<text transform="translate(185.12,44.30) scale(0.9,1)" fill="#f2f2f2" stroke="#f2f2f2" stroke-width="0.25" font-size="10" letter-spacing="0" text-anchor="middle">–26</text>
<rect x="177.27" y="48.00" width="16.30" height="461.90" rx="3.6" fill="#202020" stroke="#5c5c5c" stroke-width="1.4"/>
<rect x="179.82" y="49.00" width="11.20" height="459.90" fill="#1a1a1a" rx="1"/>
<rect x="176.37" y="151.17" width="1.80" height="5.20" fill="#292929"/>
<rect x="177.97" y="151.17" width="1.40" height="5.20" fill="#202020"/>
<path d="M177.27,150.57 l2.4,3.2 l-2.4,3.2" fill="none" stroke="#5c5c5c" stroke-width="1.4"/>
<line x1="180.72" y1="51.10" x2="190.12" y2="51.10" stroke="#6e6e6e" stroke-width="1.15" stroke-dasharray="1.3 0.6"/>
<line x1="182.92" y1="62.51" x2="187.92" y2="62.51" stroke="#6e6e6e" stroke-width="1.15" stroke-dasharray="1.3 0.6"/>
<line x1="182.92" y1="73.92" x2="187.92" y2="73.92" stroke="#6e6e6e" stroke-width="1.15" stroke-dasharray="1.3 0.6"/>
<line x1="182.92" y1="85.32" x2="187.92" y2="85.32" stroke="#6e6e6e" stroke-width="1.15" stroke-dasharray="1.3 0.6"/>
<line x1="182.92" y1="96.73" x2="187.92" y2="96.73" stroke="#6e6e6e" stroke-width="1.15" stroke-dasharray="1.3 0.6"/>
<line x1="182.92" y1="108.14" x2="187.92" y2="108.14" stroke="#6e6e6e" stroke-width="1.15" stroke-dasharray="1.3 0.6"/>
<line x1="182.92" y1="119.55" x2="187.92" y2="119.55" stroke="#6e6e6e" stroke-width="1.15" stroke-dasharray="1.3 0.6"/>
<line x1="182.92" y1="130.95" x2="187.92" y2="130.95" stroke="#6e6e6e" stroke-width="1.15" stroke-dasharray="1.3 0.6"/>
<line x1="182.92" y1="142.36" x2="187.92" y2="142.36" stroke="#6e6e6e" stroke-width="1.15" stroke-dasharray="1.3 0.6"/>
<line x1="182.92" y1="153.77" x2="187.92" y2="153.77" stroke="#6e6e6e" stroke-width="1.15" stroke-dasharray="1.3 0.6"/>
<line x1="180.72" y1="165.18" x2="190.12" y2="165.18" stroke="#6e6e6e" stroke-width="1.15" stroke-dasharray="1.3 0.6"/>
<line x1="182.92" y1="176.58" x2="187.92" y2="176.58" stroke="#6e6e6e" stroke-width="1.15" stroke-dasharray="1.3 0.6"/>
<line x1="182.92" y1="187.99" x2="187.92" y2="187.99" stroke="#6e6e6e" stroke-width="1.15" stroke-dasharray="1.3 0.6"/>
<line x1="182.92" y1="199.40" x2="187.92" y2="199.40" stroke="#6e6e6e" stroke-width="1.15" stroke-dasharray="1.3 0.6"/>
<line x1="182.92" y1="210.80" x2="187.92" y2="210.80" stroke="#6e6e6e" stroke-width="1.15" stroke-dasharray="1.3 0.6"/>
<line x1="182.92" y1="222.21" x2="187.92" y2="222.21" stroke="#6e6e6e" stroke-width="1.15" stroke-dasharray="1.3 0.6"/>
<line x1="182.92" y1="233.62" x2="187.92" y2="233.62" stroke="#6e6e6e" stroke-width="1.15" stroke-dasharray="1.3 0.6"/>
<line x1="182.92" y1="245.03" x2="187.92" y2="245.03" stroke="#6e6e6e" stroke-width="1.15" stroke-dasharray="1.3 0.6"/>
<line x1="182.92" y1="256.44" x2="187.92" y2="256.44" stroke="#6e6e6e" stroke-width="1.15" stroke-dasharray="1.3 0.6"/>
<line x1="182.92" y1="267.84" x2="187.92" y2="267.84" stroke="#6e6e6e" stroke-width="1.15" stroke-dasharray="1.3 0.6"/>
<line x1="180.72" y1="279.25" x2="190.12" y2="279.25" stroke="#6e6e6e" stroke-width="1.15" stroke-dasharray="1.3 0.6"/>
<line x1="182.92" y1="331.25" x2="187.92" y2="331.25" stroke="#6e6e6e" stroke-width="1.15" stroke-dasharray="1.3 0.6"/>
<line x1="180.72" y1="373.70" x2="190.12" y2="373.70" stroke="#6e6e6e" stroke-width="1.15" stroke-dasharray="1.3 0.6"/>
<line x1="182.92" y1="414.80" x2="187.92" y2="414.80" stroke="#6e6e6e" stroke-width="1.15" stroke-dasharray="1.3 0.6"/>
<line x1="180.72" y1="445.90" x2="190.12" y2="445.90" stroke="#6e6e6e" stroke-width="1.15" stroke-dasharray="1.3 0.6"/>
<line x1="180.72" y1="476.60" x2="190.12" y2="476.60" stroke="#6e6e6e" stroke-width="1.15" stroke-dasharray="1.3 0.6"/>
<line x1="180.72" y1="499.00" x2="190.12" y2="499.00" stroke="#6e6e6e" stroke-width="1.15" stroke-dasharray="1.3 0.6"/>
<rect x="179.67" y="345.40" width="11.50" height="162.60" fill="#120e16"/>
<rect x="180.97" y="346.40" width="8.90" height="160.60" fill="#2db24a"/>
<line x1="180.72" y1="373.70" x2="190.12" y2="373.70" stroke="#808080" stroke-width="1" stroke-dasharray="1.3 0.6" opacity="0.4"/>
<line x1="182.92" y1="414.80" x2="187.92" y2="414.80" stroke="#808080" stroke-width="1" stroke-dasharray="1.3 0.6" opacity="0.4"/>
<line x1="180.72" y1="445.90" x2="190.12" y2="445.90" stroke="#808080" stroke-width="1" stroke-dasharray="1.3 0.6" opacity="0.4"/>
<line x1="180.72" y1="476.60" x2="190.12" y2="476.60" stroke="#808080" stroke-width="1" stroke-dasharray="1.3 0.6" opacity="0.4"/>
<line x1="180.72" y1="499.00" x2="190.12" y2="499.00" stroke="#808080" stroke-width="1" stroke-dasharray="1.3 0.6" opacity="0.4"/>
<rect x="198.34" y="26.80" width="18.00" height="8.60" fill="#535353" rx="3"/>
<text transform="translate(207.34,34.10) scale(0.88,1)" fill="#f2f2f2" stroke="#f2f2f2" stroke-width="0.25" font-size="9.9" letter-spacing="0" text-anchor="middle">LFE</text>
<text transform="translate(207.34,44.30) scale(0.9,1)" fill="#f2f2f2" stroke="#f2f2f2" stroke-width="0.25" font-size="10" letter-spacing="0" text-anchor="middle">–40</text>
<rect x="199.49" y="48.00" width="16.30" height="461.90" rx="3.6" fill="#202020" stroke="#5c5c5c" stroke-width="1.4"/>
<rect x="202.04" y="49.00" width="11.20" height="459.90" fill="#1a1a1a" rx="1"/>
<rect x="198.59" y="151.17" width="1.80" height="5.20" fill="#292929"/>
<rect x="200.19" y="151.17" width="1.40" height="5.20" fill="#202020"/>
<path d="M199.49,150.57 l2.4,3.2 l-2.4,3.2" fill="none" stroke="#5c5c5c" stroke-width="1.4"/>
<line x1="202.94" y1="51.10" x2="212.34" y2="51.10" stroke="#6e6e6e" stroke-width="1.15" stroke-dasharray="1.3 0.6"/>
<line x1="205.14" y1="62.51" x2="210.14" y2="62.51" stroke="#6e6e6e" stroke-width="1.15" stroke-dasharray="1.3 0.6"/>
<line x1="205.14" y1="73.92" x2="210.14" y2="73.92" stroke="#6e6e6e" stroke-width="1.15" stroke-dasharray="1.3 0.6"/>
<line x1="205.14" y1="85.32" x2="210.14" y2="85.32" stroke="#6e6e6e" stroke-width="1.15" stroke-dasharray="1.3 0.6"/>
<line x1="205.14" y1="96.73" x2="210.14" y2="96.73" stroke="#6e6e6e" stroke-width="1.15" stroke-dasharray="1.3 0.6"/>
<line x1="205.14" y1="108.14" x2="210.14" y2="108.14" stroke="#6e6e6e" stroke-width="1.15" stroke-dasharray="1.3 0.6"/>
<line x1="205.14" y1="119.55" x2="210.14" y2="119.55" stroke="#6e6e6e" stroke-width="1.15" stroke-dasharray="1.3 0.6"/>
<line x1="205.14" y1="130.95" x2="210.14" y2="130.95" stroke="#6e6e6e" stroke-width="1.15" stroke-dasharray="1.3 0.6"/>
<line x1="205.14" y1="142.36" x2="210.14" y2="142.36" stroke="#6e6e6e" stroke-width="1.15" stroke-dasharray="1.3 0.6"/>
<line x1="205.14" y1="153.77" x2="210.14" y2="153.77" stroke="#6e6e6e" stroke-width="1.15" stroke-dasharray="1.3 0.6"/>
<line x1="202.94" y1="165.18" x2="212.34" y2="165.18" stroke="#6e6e6e" stroke-width="1.15" stroke-dasharray="1.3 0.6"/>
<line x1="205.14" y1="176.58" x2="210.14" y2="176.58" stroke="#6e6e6e" stroke-width="1.15" stroke-dasharray="1.3 0.6"/>
<line x1="205.14" y1="187.99" x2="210.14" y2="187.99" stroke="#6e6e6e" stroke-width="1.15" stroke-dasharray="1.3 0.6"/>
<line x1="205.14" y1="199.40" x2="210.14" y2="199.40" stroke="#6e6e6e" stroke-width="1.15" stroke-dasharray="1.3 0.6"/>
<line x1="205.14" y1="210.80" x2="210.14" y2="210.80" stroke="#6e6e6e" stroke-width="1.15" stroke-dasharray="1.3 0.6"/>
<line x1="205.14" y1="222.21" x2="210.14" y2="222.21" stroke="#6e6e6e" stroke-width="1.15" stroke-dasharray="1.3 0.6"/>
<line x1="205.14" y1="233.62" x2="210.14" y2="233.62" stroke="#6e6e6e" stroke-width="1.15" stroke-dasharray="1.3 0.6"/>
<line x1="205.14" y1="245.03" x2="210.14" y2="245.03" stroke="#6e6e6e" stroke-width="1.15" stroke-dasharray="1.3 0.6"/>
<line x1="205.14" y1="256.44" x2="210.14" y2="256.44" stroke="#6e6e6e" stroke-width="1.15" stroke-dasharray="1.3 0.6"/>
<line x1="205.14" y1="267.84" x2="210.14" y2="267.84" stroke="#6e6e6e" stroke-width="1.15" stroke-dasharray="1.3 0.6"/>
<line x1="202.94" y1="279.25" x2="212.34" y2="279.25" stroke="#6e6e6e" stroke-width="1.15" stroke-dasharray="1.3 0.6"/>
<line x1="205.14" y1="331.25" x2="210.14" y2="331.25" stroke="#6e6e6e" stroke-width="1.15" stroke-dasharray="1.3 0.6"/>
<line x1="202.94" y1="373.70" x2="212.34" y2="373.70" stroke="#6e6e6e" stroke-width="1.15" stroke-dasharray="1.3 0.6"/>
<line x1="205.14" y1="414.80" x2="210.14" y2="414.80" stroke="#6e6e6e" stroke-width="1.15" stroke-dasharray="1.3 0.6"/>
<line x1="202.94" y1="445.90" x2="212.34" y2="445.90" stroke="#6e6e6e" stroke-width="1.15" stroke-dasharray="1.3 0.6"/>
<line x1="202.94" y1="476.60" x2="212.34" y2="476.60" stroke="#6e6e6e" stroke-width="1.15" stroke-dasharray="1.3 0.6"/>
<line x1="202.94" y1="499.00" x2="212.34" y2="499.00" stroke="#6e6e6e" stroke-width="1.15" stroke-dasharray="1.3 0.6"/>
<rect x="201.89" y="448.00" width="11.50" height="60.00" fill="#120e16"/>
<rect x="203.19" y="449.00" width="8.90" height="58.00" fill="#2db24a"/>
<line x1="202.94" y1="476.60" x2="212.34" y2="476.60" stroke="#808080" stroke-width="1" stroke-dasharray="1.3 0.6" opacity="0.4"/>
<line x1="202.94" y1="499.00" x2="212.34" y2="499.00" stroke="#808080" stroke-width="1" stroke-dasharray="1.3 0.6" opacity="0.4"/>
<rect x="268.90" y="7.00" width="216.80" height="509.50" fill="#080808" rx="1"/>
<rect x="270.40" y="9.20" width="214.30" height="506.80" fill="#14913f" rx="1.5"/>
<rect x="273.10" y="11.20" width="209.90" height="503.40" fill="#292929" rx="1"/>
<path d="M268.9,7 h4 l-4,4 z M485.7,516.5 h-4 l4,-4 z" fill="#080808"/>
<path d="M286.20,12.30 l-12.2,12.2" stroke="#101010" stroke-width="1.4" fill="none" opacity="0.7"/>
<path d="M273.6,11.9 h11.9 l-11.9,11.6 z" fill="#48b84c" stroke="#58c65a" stroke-width="0.7" stroke-linejoin="round"/>
<text transform="translate(290.00,21.20) scale(0.945,1)" fill="#22b04c" stroke="#22b04c" stroke-width="0.4" font-size="9.9" letter-spacing="0" text-anchor="start">GRP–3 – (EBU R128 –23 LUFS)</text>
<text transform="translate(277.00,44.50) scale(0.9,1)" fill="#ececec" stroke="#ececec" stroke-width="0.25" font-size="10" letter-spacing="0" text-anchor="start">dBTP</text>
<rect x="293.00" y="50.80" width="2.60" height="456.00" fill="#a2a2a2"/>
<rect x="293.00" y="50.80" width="2.60" height="137.70" fill="#e08888"/>
<line x1="295.50" y1="51.10" x2="302.70" y2="51.10" stroke="#858585" stroke-width="1" />
<line x1="295.50" y1="62.53" x2="298.70" y2="62.53" stroke="#7c7c7c" stroke-width="1" />
<line x1="295.50" y1="73.97" x2="298.70" y2="73.97" stroke="#7c7c7c" stroke-width="1" />
<line x1="295.50" y1="85.40" x2="302.70" y2="85.40" stroke="#858585" stroke-width="1" />
<line x1="295.50" y1="96.83" x2="298.70" y2="96.83" stroke="#7c7c7c" stroke-width="1" />
<line x1="295.50" y1="108.27" x2="298.70" y2="108.27" stroke="#7c7c7c" stroke-width="1" />
<line x1="295.50" y1="119.70" x2="302.70" y2="119.70" stroke="#858585" stroke-width="1" />
<line x1="295.50" y1="131.13" x2="298.70" y2="131.13" stroke="#7c7c7c" stroke-width="1" />
<line x1="295.50" y1="142.57" x2="298.70" y2="142.57" stroke="#7c7c7c" stroke-width="1" />
<line x1="295.50" y1="154.00" x2="302.70" y2="154.00" stroke="#858585" stroke-width="1" />
<line x1="295.50" y1="165.43" x2="298.70" y2="165.43" stroke="#7c7c7c" stroke-width="1" />
<line x1="295.50" y1="176.87" x2="298.70" y2="176.87" stroke="#7c7c7c" stroke-width="1" />
<line x1="295.50" y1="188.30" x2="298.70" y2="188.30" stroke="#7c7c7c" stroke-width="1" />
<line x1="295.50" y1="199.73" x2="302.70" y2="199.73" stroke="#858585" stroke-width="1" />
<line x1="295.50" y1="211.17" x2="298.70" y2="211.17" stroke="#7c7c7c" stroke-width="1" />
<line x1="295.50" y1="222.60" x2="298.70" y2="222.60" stroke="#7c7c7c" stroke-width="1" />
<line x1="295.50" y1="234.03" x2="298.70" y2="234.03" stroke="#7c7c7c" stroke-width="1" />
<line x1="295.50" y1="245.47" x2="298.70" y2="245.47" stroke="#7c7c7c" stroke-width="1" />
<line x1="295.50" y1="256.90" x2="298.70" y2="256.90" stroke="#7c7c7c" stroke-width="1" />
<line x1="295.50" y1="311.50" x2="302.70" y2="311.50" stroke="#858585" stroke-width="1" />
<line x1="295.50" y1="356.00" x2="298.70" y2="356.00" stroke="#7c7c7c" stroke-width="1" />
<line x1="295.50" y1="398.00" x2="302.70" y2="398.00" stroke="#858585" stroke-width="1" />
<line x1="295.50" y1="425.50" x2="298.70" y2="425.50" stroke="#7c7c7c" stroke-width="1" />
<line x1="295.50" y1="445.80" x2="302.70" y2="445.80" stroke="#858585" stroke-width="1" />
<line x1="295.50" y1="476.60" x2="298.70" y2="476.60" stroke="#7c7c7c" stroke-width="1" />
<line x1="295.50" y1="499.00" x2="302.70" y2="499.00" stroke="#858585" stroke-width="1" />
<text transform="translate(287.00,58.30) scale(0.95,1)" fill="#ececec" stroke="#ececec" stroke-width="0.2" font-size="9.2" letter-spacing="0" text-anchor="middle">3</text>
<text transform="translate(287.00,88.60) scale(0.95,1)" fill="#ececec" stroke="#ececec" stroke-width="0.2" font-size="9.2" letter-spacing="0" text-anchor="middle">0</text>
<text transform="translate(287.00,122.90) scale(0.95,1)" fill="#ececec" stroke="#ececec" stroke-width="0.2" font-size="9.2" letter-spacing="0" text-anchor="middle">3</text>
<text transform="translate(287.00,157.20) scale(0.95,1)" fill="#ececec" stroke="#ececec" stroke-width="0.2" font-size="9.2" letter-spacing="0" text-anchor="middle">6</text>
<text transform="translate(287.00,202.93) scale(0.95,1)" fill="#ececec" stroke="#ececec" stroke-width="0.2" font-size="9.2" letter-spacing="0" text-anchor="middle">10</text>
<text transform="translate(287.00,314.70) scale(0.95,1)" fill="#ececec" stroke="#ececec" stroke-width="0.2" font-size="9.2" letter-spacing="0" text-anchor="middle">20</text>
<text transform="translate(287.00,401.20) scale(0.95,1)" fill="#ececec" stroke="#ececec" stroke-width="0.2" font-size="9.2" letter-spacing="0" text-anchor="middle">30</text>
<text transform="translate(287.00,449.00) scale(0.95,1)" fill="#ececec" stroke="#ececec" stroke-width="0.2" font-size="9.2" letter-spacing="0" text-anchor="middle">40</text>
<text transform="translate(287.00,502.20) scale(0.95,1)" fill="#ececec" stroke="#ececec" stroke-width="0.2" font-size="9.2" letter-spacing="0" text-anchor="middle">60</text>
<rect x="302.75" y="26.80" width="25.00" height="8.60" fill="#535353" rx="3"/>
<text transform="translate(315.25,34.10) scale(0.88,1)" fill="#f2f2f2" stroke="#f2f2f2" stroke-width="0.25" font-size="9.9" letter-spacing="0" text-anchor="middle">L</text>
<text transform="translate(315.25,44.30) scale(0.9,1)" fill="#f2f2f2" stroke="#f2f2f2" stroke-width="0.25" font-size="10" letter-spacing="0" text-anchor="middle">–17.9</text>
<rect x="303.50" y="48.10" width="24.10" height="461.70" rx="3.6" fill="#222222" stroke="#565656" stroke-width="1.6"/>
<rect x="305.55" y="49.20" width="20.00" height="459.50" fill="#1f1f1f" rx="1"/>
<rect x="302.50" y="185.70" width="2.00" height="5.20" fill="#292929"/>
<rect x="304.30" y="185.70" width="1.40" height="5.20" fill="#222222"/>
<path d="M303.50,185.10 l2.4,3.2 l-2.4,3.2" fill="none" stroke="#565656" stroke-width="1.6"/>
<line x1="307.30" y1="51.10" x2="323.80" y2="51.10" stroke="#6e6e6e" stroke-width="1.15" stroke-dasharray="1.3 0.6"/>
<line x1="312.05" y1="62.53" x2="319.05" y2="62.53" stroke="#6e6e6e" stroke-width="1.15" stroke-dasharray="1.3 0.6"/>
<line x1="312.05" y1="73.97" x2="319.05" y2="73.97" stroke="#6e6e6e" stroke-width="1.15" stroke-dasharray="1.3 0.6"/>
<line x1="307.30" y1="85.40" x2="323.80" y2="85.40" stroke="#6e6e6e" stroke-width="1.15" stroke-dasharray="1.3 0.6"/>
<line x1="312.05" y1="96.83" x2="319.05" y2="96.83" stroke="#6e6e6e" stroke-width="1.15" stroke-dasharray="1.3 0.6"/>
<line x1="312.05" y1="108.27" x2="319.05" y2="108.27" stroke="#6e6e6e" stroke-width="1.15" stroke-dasharray="1.3 0.6"/>
<line x1="312.05" y1="119.70" x2="319.05" y2="119.70" stroke="#6e6e6e" stroke-width="1.15" stroke-dasharray="1.3 0.6"/>
<line x1="312.05" y1="131.13" x2="319.05" y2="131.13" stroke="#6e6e6e" stroke-width="1.15" stroke-dasharray="1.3 0.6"/>
<line x1="312.05" y1="142.57" x2="319.05" y2="142.57" stroke="#6e6e6e" stroke-width="1.15" stroke-dasharray="1.3 0.6"/>
<line x1="312.05" y1="154.00" x2="319.05" y2="154.00" stroke="#6e6e6e" stroke-width="1.15" stroke-dasharray="1.3 0.6"/>
<line x1="312.05" y1="165.43" x2="319.05" y2="165.43" stroke="#6e6e6e" stroke-width="1.15" stroke-dasharray="1.3 0.6"/>
<line x1="312.05" y1="176.87" x2="319.05" y2="176.87" stroke="#6e6e6e" stroke-width="1.15" stroke-dasharray="1.3 0.6"/>
<line x1="312.05" y1="188.30" x2="319.05" y2="188.30" stroke="#6e6e6e" stroke-width="1.15" stroke-dasharray="1.3 0.6"/>
<line x1="307.30" y1="199.73" x2="323.80" y2="199.73" stroke="#6e6e6e" stroke-width="1.15" stroke-dasharray="1.3 0.6"/>
<line x1="312.05" y1="211.17" x2="319.05" y2="211.17" stroke="#6e6e6e" stroke-width="1.15" stroke-dasharray="1.3 0.6"/>
<line x1="312.05" y1="222.60" x2="319.05" y2="222.60" stroke="#6e6e6e" stroke-width="1.15" stroke-dasharray="1.3 0.6"/>
<line x1="312.05" y1="234.03" x2="319.05" y2="234.03" stroke="#6e6e6e" stroke-width="1.15" stroke-dasharray="1.3 0.6"/>
<line x1="312.05" y1="245.47" x2="319.05" y2="245.47" stroke="#6e6e6e" stroke-width="1.15" stroke-dasharray="1.3 0.6"/>
<line x1="312.05" y1="256.90" x2="319.05" y2="256.90" stroke="#6e6e6e" stroke-width="1.15" stroke-dasharray="1.3 0.6"/>
<line x1="307.30" y1="311.50" x2="323.80" y2="311.50" stroke="#6e6e6e" stroke-width="1.15" stroke-dasharray="1.3 0.6"/>
<line x1="312.05" y1="356.00" x2="319.05" y2="356.00" stroke="#6e6e6e" stroke-width="1.15" stroke-dasharray="1.3 0.6"/>
<line x1="307.30" y1="398.00" x2="323.80" y2="398.00" stroke="#6e6e6e" stroke-width="1.15" stroke-dasharray="1.3 0.6"/>
<line x1="312.05" y1="425.50" x2="319.05" y2="425.50" stroke="#6e6e6e" stroke-width="1.15" stroke-dasharray="1.3 0.6"/>
<line x1="307.30" y1="445.80" x2="323.80" y2="445.80" stroke="#6e6e6e" stroke-width="1.15" stroke-dasharray="1.3 0.6"/>
<line x1="307.30" y1="476.60" x2="323.80" y2="476.60" stroke="#6e6e6e" stroke-width="1.15" stroke-dasharray="1.3 0.6"/>
<line x1="307.30" y1="499.00" x2="323.80" y2="499.00" stroke="#6e6e6e" stroke-width="1.15" stroke-dasharray="1.3 0.6"/>
<rect x="305.80" y="268.30" width="19.50" height="239.70" fill="#120e16"/>
<rect x="305.30" y="237.50" width="20.50" height="5.20" fill="#120e16"/>
<rect x="307.10" y="269.30" width="16.90" height="237.70" fill="#f8ec1e"/>
<line x1="307.30" y1="311.50" x2="323.80" y2="311.50" stroke="#808080" stroke-width="1" stroke-dasharray="1.3 0.6" opacity="0.4"/>
<line x1="312.05" y1="356.00" x2="319.05" y2="356.00" stroke="#808080" stroke-width="1" stroke-dasharray="1.3 0.6" opacity="0.4"/>
<line x1="307.30" y1="398.00" x2="323.80" y2="398.00" stroke="#808080" stroke-width="1" stroke-dasharray="1.3 0.6" opacity="0.4"/>
<line x1="312.05" y1="425.50" x2="319.05" y2="425.50" stroke="#808080" stroke-width="1" stroke-dasharray="1.3 0.6" opacity="0.4"/>
<line x1="307.30" y1="445.80" x2="323.80" y2="445.80" stroke="#808080" stroke-width="1" stroke-dasharray="1.3 0.6" opacity="0.4"/>
<line x1="307.30" y1="476.60" x2="323.80" y2="476.60" stroke="#808080" stroke-width="1" stroke-dasharray="1.3 0.6" opacity="0.4"/>
<line x1="307.30" y1="499.00" x2="323.80" y2="499.00" stroke="#808080" stroke-width="1" stroke-dasharray="1.3 0.6" opacity="0.4"/>
<rect x="306.30" y="238.55" width="18.50" height="3.10" fill="#f8ec1e" rx="0.6"/>
<rect x="332.65" y="26.80" width="25.00" height="8.60" fill="#535353" rx="3"/>
<text transform="translate(345.15,34.10) scale(0.88,1)" fill="#f2f2f2" stroke="#f2f2f2" stroke-width="0.25" font-size="9.9" letter-spacing="0" text-anchor="middle">R</text>
<text transform="translate(345.15,44.30) scale(0.9,1)" fill="#f2f2f2" stroke="#f2f2f2" stroke-width="0.25" font-size="10" letter-spacing="0" text-anchor="middle">–17.3</text>
<rect x="333.40" y="48.10" width="24.10" height="461.70" rx="3.6" fill="#222222" stroke="#565656" stroke-width="1.6"/>
<rect x="335.45" y="49.20" width="20.00" height="459.50" fill="#1f1f1f" rx="1"/>
<rect x="332.40" y="185.70" width="2.00" height="5.20" fill="#292929"/>
<rect x="334.20" y="185.70" width="1.40" height="5.20" fill="#222222"/>
<path d="M333.40,185.10 l2.4,3.2 l-2.4,3.2" fill="none" stroke="#565656" stroke-width="1.6"/>
<line x1="337.20" y1="51.10" x2="353.70" y2="51.10" stroke="#6e6e6e" stroke-width="1.15" stroke-dasharray="1.3 0.6"/>
<line x1="341.95" y1="62.53" x2="348.95" y2="62.53" stroke="#6e6e6e" stroke-width="1.15" stroke-dasharray="1.3 0.6"/>
<line x1="341.95" y1="73.97" x2="348.95" y2="73.97" stroke="#6e6e6e" stroke-width="1.15" stroke-dasharray="1.3 0.6"/>
<line x1="337.20" y1="85.40" x2="353.70" y2="85.40" stroke="#6e6e6e" stroke-width="1.15" stroke-dasharray="1.3 0.6"/>
<line x1="341.95" y1="96.83" x2="348.95" y2="96.83" stroke="#6e6e6e" stroke-width="1.15" stroke-dasharray="1.3 0.6"/>
<line x1="341.95" y1="108.27" x2="348.95" y2="108.27" stroke="#6e6e6e" stroke-width="1.15" stroke-dasharray="1.3 0.6"/>
<line x1="341.95" y1="119.70" x2="348.95" y2="119.70" stroke="#6e6e6e" stroke-width="1.15" stroke-dasharray="1.3 0.6"/>
<line x1="341.95" y1="131.13" x2="348.95" y2="131.13" stroke="#6e6e6e" stroke-width="1.15" stroke-dasharray="1.3 0.6"/>
<line x1="341.95" y1="142.57" x2="348.95" y2="142.57" stroke="#6e6e6e" stroke-width="1.15" stroke-dasharray="1.3 0.6"/>
<line x1="341.95" y1="154.00" x2="348.95" y2="154.00" stroke="#6e6e6e" stroke-width="1.15" stroke-dasharray="1.3 0.6"/>
<line x1="341.95" y1="165.43" x2="348.95" y2="165.43" stroke="#6e6e6e" stroke-width="1.15" stroke-dasharray="1.3 0.6"/>
<line x1="341.95" y1="176.87" x2="348.95" y2="176.87" stroke="#6e6e6e" stroke-width="1.15" stroke-dasharray="1.3 0.6"/>
<line x1="341.95" y1="188.30" x2="348.95" y2="188.30" stroke="#6e6e6e" stroke-width="1.15" stroke-dasharray="1.3 0.6"/>
<line x1="337.20" y1="199.73" x2="353.70" y2="199.73" stroke="#6e6e6e" stroke-width="1.15" stroke-dasharray="1.3 0.6"/>
<line x1="341.95" y1="211.17" x2="348.95" y2="211.17" stroke="#6e6e6e" stroke-width="1.15" stroke-dasharray="1.3 0.6"/>
<line x1="341.95" y1="222.60" x2="348.95" y2="222.60" stroke="#6e6e6e" stroke-width="1.15" stroke-dasharray="1.3 0.6"/>
<line x1="341.95" y1="234.03" x2="348.95" y2="234.03" stroke="#6e6e6e" stroke-width="1.15" stroke-dasharray="1.3 0.6"/>
<line x1="341.95" y1="245.47" x2="348.95" y2="245.47" stroke="#6e6e6e" stroke-width="1.15" stroke-dasharray="1.3 0.6"/>
<line x1="341.95" y1="256.90" x2="348.95" y2="256.90" stroke="#6e6e6e" stroke-width="1.15" stroke-dasharray="1.3 0.6"/>
<line x1="337.20" y1="311.50" x2="353.70" y2="311.50" stroke="#6e6e6e" stroke-width="1.15" stroke-dasharray="1.3 0.6"/>
<line x1="341.95" y1="356.00" x2="348.95" y2="356.00" stroke="#6e6e6e" stroke-width="1.15" stroke-dasharray="1.3 0.6"/>
<line x1="337.20" y1="398.00" x2="353.70" y2="398.00" stroke="#6e6e6e" stroke-width="1.15" stroke-dasharray="1.3 0.6"/>
<line x1="341.95" y1="425.50" x2="348.95" y2="425.50" stroke="#6e6e6e" stroke-width="1.15" stroke-dasharray="1.3 0.6"/>
<line x1="337.20" y1="445.80" x2="353.70" y2="445.80" stroke="#6e6e6e" stroke-width="1.15" stroke-dasharray="1.3 0.6"/>
<line x1="337.20" y1="476.60" x2="353.70" y2="476.60" stroke="#6e6e6e" stroke-width="1.15" stroke-dasharray="1.3 0.6"/>
<line x1="337.20" y1="499.00" x2="353.70" y2="499.00" stroke="#6e6e6e" stroke-width="1.15" stroke-dasharray="1.3 0.6"/>
<rect x="335.70" y="271.80" width="19.50" height="236.20" fill="#120e16"/>
<rect x="335.20" y="221.10" width="20.50" height="5.10" fill="#120e16"/>
<rect x="337.00" y="272.80" width="16.90" height="234.20" fill="#f8ec1e"/>
<line x1="337.20" y1="311.50" x2="353.70" y2="311.50" stroke="#808080" stroke-width="1" stroke-dasharray="1.3 0.6" opacity="0.4"/>
<line x1="341.95" y1="356.00" x2="348.95" y2="356.00" stroke="#808080" stroke-width="1" stroke-dasharray="1.3 0.6" opacity="0.4"/>
<line x1="337.20" y1="398.00" x2="353.70" y2="398.00" stroke="#808080" stroke-width="1" stroke-dasharray="1.3 0.6" opacity="0.4"/>
<line x1="341.95" y1="425.50" x2="348.95" y2="425.50" stroke="#808080" stroke-width="1" stroke-dasharray="1.3 0.6" opacity="0.4"/>
<line x1="337.20" y1="445.80" x2="353.70" y2="445.80" stroke="#808080" stroke-width="1" stroke-dasharray="1.3 0.6" opacity="0.4"/>
<line x1="337.20" y1="476.60" x2="353.70" y2="476.60" stroke="#808080" stroke-width="1" stroke-dasharray="1.3 0.6" opacity="0.4"/>
<line x1="337.20" y1="499.00" x2="353.70" y2="499.00" stroke="#808080" stroke-width="1" stroke-dasharray="1.3 0.6" opacity="0.4"/>
<rect x="336.20" y="222.15" width="18.50" height="3.00" fill="#f8ec1e" rx="0.6"/>
<rect x="362.55" y="26.80" width="25.00" height="8.60" fill="#535353" rx="3"/>
<text transform="translate(375.05,34.10) scale(0.88,1)" fill="#f2f2f2" stroke="#f2f2f2" stroke-width="0.25" font-size="9.9" letter-spacing="0" text-anchor="middle">C</text>
<text transform="translate(375.05,44.30) scale(0.9,1)" fill="#f2f2f2" stroke="#f2f2f2" stroke-width="0.25" font-size="10" letter-spacing="0" text-anchor="middle">–17.9</text>
<rect x="363.30" y="48.10" width="24.10" height="461.70" rx="3.6" fill="#222222" stroke="#565656" stroke-width="1.6"/>
<rect x="365.35" y="49.20" width="20.00" height="459.50" fill="#1f1f1f" rx="1"/>
<rect x="362.30" y="185.70" width="2.00" height="5.20" fill="#292929"/>
<rect x="364.10" y="185.70" width="1.40" height="5.20" fill="#222222"/>
<path d="M363.30,185.10 l2.4,3.2 l-2.4,3.2" fill="none" stroke="#565656" stroke-width="1.6"/>
<line x1="367.10" y1="51.10" x2="383.60" y2="51.10" stroke="#6e6e6e" stroke-width="1.15" stroke-dasharray="1.3 0.6"/>
<line x1="371.85" y1="62.53" x2="378.85" y2="62.53" stroke="#6e6e6e" stroke-width="1.15" stroke-dasharray="1.3 0.6"/>
<line x1="371.85" y1="73.97" x2="378.85" y2="73.97" stroke="#6e6e6e" stroke-width="1.15" stroke-dasharray="1.3 0.6"/>
<line x1="367.10" y1="85.40" x2="383.60" y2="85.40" stroke="#6e6e6e" stroke-width="1.15" stroke-dasharray="1.3 0.6"/>
<line x1="371.85" y1="96.83" x2="378.85" y2="96.83" stroke="#6e6e6e" stroke-width="1.15" stroke-dasharray="1.3 0.6"/>
<line x1="371.85" y1="108.27" x2="378.85" y2="108.27" stroke="#6e6e6e" stroke-width="1.15" stroke-dasharray="1.3 0.6"/>
<line x1="371.85" y1="119.70" x2="378.85" y2="119.70" stroke="#6e6e6e" stroke-width="1.15" stroke-dasharray="1.3 0.6"/>
<line x1="371.85" y1="131.13" x2="378.85" y2="131.13" stroke="#6e6e6e" stroke-width="1.15" stroke-dasharray="1.3 0.6"/>
<line x1="371.85" y1="142.57" x2="378.85" y2="142.57" stroke="#6e6e6e" stroke-width="1.15" stroke-dasharray="1.3 0.6"/>
<line x1="371.85" y1="154.00" x2="378.85" y2="154.00" stroke="#6e6e6e" stroke-width="1.15" stroke-dasharray="1.3 0.6"/>
<line x1="371.85" y1="165.43" x2="378.85" y2="165.43" stroke="#6e6e6e" stroke-width="1.15" stroke-dasharray="1.3 0.6"/>
<line x1="371.85" y1="176.87" x2="378.85" y2="176.87" stroke="#6e6e6e" stroke-width="1.15" stroke-dasharray="1.3 0.6"/>
<line x1="371.85" y1="188.30" x2="378.85" y2="188.30" stroke="#6e6e6e" stroke-width="1.15" stroke-dasharray="1.3 0.6"/>
<line x1="367.10" y1="199.73" x2="383.60" y2="199.73" stroke="#6e6e6e" stroke-width="1.15" stroke-dasharray="1.3 0.6"/>
<line x1="371.85" y1="211.17" x2="378.85" y2="211.17" stroke="#6e6e6e" stroke-width="1.15" stroke-dasharray="1.3 0.6"/>
<line x1="371.85" y1="222.60" x2="378.85" y2="222.60" stroke="#6e6e6e" stroke-width="1.15" stroke-dasharray="1.3 0.6"/>
<line x1="371.85" y1="234.03" x2="378.85" y2="234.03" stroke="#6e6e6e" stroke-width="1.15" stroke-dasharray="1.3 0.6"/>
<line x1="371.85" y1="245.47" x2="378.85" y2="245.47" stroke="#6e6e6e" stroke-width="1.15" stroke-dasharray="1.3 0.6"/>
<line x1="371.85" y1="256.90" x2="378.85" y2="256.90" stroke="#6e6e6e" stroke-width="1.15" stroke-dasharray="1.3 0.6"/>
<line x1="367.10" y1="311.50" x2="383.60" y2="311.50" stroke="#6e6e6e" stroke-width="1.15" stroke-dasharray="1.3 0.6"/>
<line x1="371.85" y1="356.00" x2="378.85" y2="356.00" stroke="#6e6e6e" stroke-width="1.15" stroke-dasharray="1.3 0.6"/>
<line x1="367.10" y1="398.00" x2="383.60" y2="398.00" stroke="#6e6e6e" stroke-width="1.15" stroke-dasharray="1.3 0.6"/>
<line x1="371.85" y1="425.50" x2="378.85" y2="425.50" stroke="#6e6e6e" stroke-width="1.15" stroke-dasharray="1.3 0.6"/>
<line x1="367.10" y1="445.80" x2="383.60" y2="445.80" stroke="#6e6e6e" stroke-width="1.15" stroke-dasharray="1.3 0.6"/>
<line x1="367.10" y1="476.60" x2="383.60" y2="476.60" stroke="#6e6e6e" stroke-width="1.15" stroke-dasharray="1.3 0.6"/>
<line x1="367.10" y1="499.00" x2="383.60" y2="499.00" stroke="#6e6e6e" stroke-width="1.15" stroke-dasharray="1.3 0.6"/>
<rect x="365.60" y="277.00" width="19.50" height="231.00" fill="#120e16"/>
<rect x="365.10" y="223.90" width="20.50" height="5.00" fill="#120e16"/>
<rect x="366.90" y="278.00" width="16.90" height="229.00" fill="#f8ec1e"/>
<line x1="367.10" y1="311.50" x2="383.60" y2="311.50" stroke="#808080" stroke-width="1" stroke-dasharray="1.3 0.6" opacity="0.4"/>
<line x1="371.85" y1="356.00" x2="378.85" y2="356.00" stroke="#808080" stroke-width="1" stroke-dasharray="1.3 0.6" opacity="0.4"/>
<line x1="367.10" y1="398.00" x2="383.60" y2="398.00" stroke="#808080" stroke-width="1" stroke-dasharray="1.3 0.6" opacity="0.4"/>
<line x1="371.85" y1="425.50" x2="378.85" y2="425.50" stroke="#808080" stroke-width="1" stroke-dasharray="1.3 0.6" opacity="0.4"/>
<line x1="367.10" y1="445.80" x2="383.60" y2="445.80" stroke="#808080" stroke-width="1" stroke-dasharray="1.3 0.6" opacity="0.4"/>
<line x1="367.10" y1="476.60" x2="383.60" y2="476.60" stroke="#808080" stroke-width="1" stroke-dasharray="1.3 0.6" opacity="0.4"/>
<line x1="367.10" y1="499.00" x2="383.60" y2="499.00" stroke="#808080" stroke-width="1" stroke-dasharray="1.3 0.6" opacity="0.4"/>
<rect x="366.10" y="224.95" width="18.50" height="2.90" fill="#f8ec1e" rx="0.6"/>
<rect x="392.45" y="26.80" width="25.00" height="8.60" fill="#535353" rx="3"/>
<text transform="translate(404.95,34.10) scale(0.88,1)" fill="#f2f2f2" stroke="#f2f2f2" stroke-width="0.25" font-size="9.9" letter-spacing="0" text-anchor="middle">LFE</text>
<text transform="translate(404.95,44.30) scale(0.9,1)" fill="#f2f2f2" stroke="#f2f2f2" stroke-width="0.25" font-size="10" letter-spacing="0" text-anchor="middle">–41.9</text>
<rect x="393.20" y="48.10" width="24.10" height="461.70" rx="3.6" fill="#222222" stroke="#565656" stroke-width="1.6"/>
<rect x="395.25" y="49.20" width="20.00" height="459.50" fill="#1f1f1f" rx="1"/>
<rect x="392.20" y="185.70" width="2.00" height="5.20" fill="#292929"/>
<rect x="394.00" y="185.70" width="1.40" height="5.20" fill="#222222"/>
<path d="M393.20,185.10 l2.4,3.2 l-2.4,3.2" fill="none" stroke="#565656" stroke-width="1.6"/>
<line x1="397.00" y1="51.10" x2="413.50" y2="51.10" stroke="#6e6e6e" stroke-width="1.15" stroke-dasharray="1.3 0.6"/>
<line x1="401.75" y1="62.53" x2="408.75" y2="62.53" stroke="#6e6e6e" stroke-width="1.15" stroke-dasharray="1.3 0.6"/>
<line x1="401.75" y1="73.97" x2="408.75" y2="73.97" stroke="#6e6e6e" stroke-width="1.15" stroke-dasharray="1.3 0.6"/>
<line x1="397.00" y1="85.40" x2="413.50" y2="85.40" stroke="#6e6e6e" stroke-width="1.15" stroke-dasharray="1.3 0.6"/>
<line x1="401.75" y1="96.83" x2="408.75" y2="96.83" stroke="#6e6e6e" stroke-width="1.15" stroke-dasharray="1.3 0.6"/>
<line x1="401.75" y1="108.27" x2="408.75" y2="108.27" stroke="#6e6e6e" stroke-width="1.15" stroke-dasharray="1.3 0.6"/>
<line x1="401.75" y1="119.70" x2="408.75" y2="119.70" stroke="#6e6e6e" stroke-width="1.15" stroke-dasharray="1.3 0.6"/>
<line x1="401.75" y1="131.13" x2="408.75" y2="131.13" stroke="#6e6e6e" stroke-width="1.15" stroke-dasharray="1.3 0.6"/>
<line x1="401.75" y1="142.57" x2="408.75" y2="142.57" stroke="#6e6e6e" stroke-width="1.15" stroke-dasharray="1.3 0.6"/>
<line x1="401.75" y1="154.00" x2="408.75" y2="154.00" stroke="#6e6e6e" stroke-width="1.15" stroke-dasharray="1.3 0.6"/>
<line x1="401.75" y1="165.43" x2="408.75" y2="165.43" stroke="#6e6e6e" stroke-width="1.15" stroke-dasharray="1.3 0.6"/>
<line x1="401.75" y1="176.87" x2="408.75" y2="176.87" stroke="#6e6e6e" stroke-width="1.15" stroke-dasharray="1.3 0.6"/>
<line x1="401.75" y1="188.30" x2="408.75" y2="188.30" stroke="#6e6e6e" stroke-width="1.15" stroke-dasharray="1.3 0.6"/>
<line x1="397.00" y1="199.73" x2="413.50" y2="199.73" stroke="#6e6e6e" stroke-width="1.15" stroke-dasharray="1.3 0.6"/>
<line x1="401.75" y1="211.17" x2="408.75" y2="211.17" stroke="#6e6e6e" stroke-width="1.15" stroke-dasharray="1.3 0.6"/>
<line x1="401.75" y1="222.60" x2="408.75" y2="222.60" stroke="#6e6e6e" stroke-width="1.15" stroke-dasharray="1.3 0.6"/>
<line x1="401.75" y1="234.03" x2="408.75" y2="234.03" stroke="#6e6e6e" stroke-width="1.15" stroke-dasharray="1.3 0.6"/>
<line x1="401.75" y1="245.47" x2="408.75" y2="245.47" stroke="#6e6e6e" stroke-width="1.15" stroke-dasharray="1.3 0.6"/>
<line x1="401.75" y1="256.90" x2="408.75" y2="256.90" stroke="#6e6e6e" stroke-width="1.15" stroke-dasharray="1.3 0.6"/>
<line x1="397.00" y1="311.50" x2="413.50" y2="311.50" stroke="#6e6e6e" stroke-width="1.15" stroke-dasharray="1.3 0.6"/>
<line x1="401.75" y1="356.00" x2="408.75" y2="356.00" stroke="#6e6e6e" stroke-width="1.15" stroke-dasharray="1.3 0.6"/>
<line x1="397.00" y1="398.00" x2="413.50" y2="398.00" stroke="#6e6e6e" stroke-width="1.15" stroke-dasharray="1.3 0.6"/>
<line x1="401.75" y1="425.50" x2="408.75" y2="425.50" stroke="#6e6e6e" stroke-width="1.15" stroke-dasharray="1.3 0.6"/>
<line x1="397.00" y1="445.80" x2="413.50" y2="445.80" stroke="#6e6e6e" stroke-width="1.15" stroke-dasharray="1.3 0.6"/>
<line x1="397.00" y1="476.60" x2="413.50" y2="476.60" stroke="#6e6e6e" stroke-width="1.15" stroke-dasharray="1.3 0.6"/>
<line x1="397.00" y1="499.00" x2="413.50" y2="499.00" stroke="#6e6e6e" stroke-width="1.15" stroke-dasharray="1.3 0.6"/>
<rect x="395.50" y="453.20" width="19.50" height="54.80" fill="#120e16"/>
<rect x="395.00" y="446.90" width="20.50" height="5.00" fill="#120e16"/>
<rect x="396.80" y="454.20" width="16.90" height="52.80" fill="#f8ec1e"/>
<line x1="397.00" y1="476.60" x2="413.50" y2="476.60" stroke="#808080" stroke-width="1" stroke-dasharray="1.3 0.6" opacity="0.4"/>
<line x1="397.00" y1="499.00" x2="413.50" y2="499.00" stroke="#808080" stroke-width="1" stroke-dasharray="1.3 0.6" opacity="0.4"/>
<rect x="396.00" y="447.95" width="18.50" height="2.90" fill="#f8ec1e" rx="0.6"/>
<rect x="422.35" y="26.80" width="25.00" height="8.60" fill="#535353" rx="3"/>
<text transform="translate(434.85,34.10) scale(0.88,1)" fill="#f2f2f2" stroke="#f2f2f2" stroke-width="0.25" font-size="9.9" letter-spacing="0" text-anchor="middle">LS</text>
<text transform="translate(434.85,44.30) scale(0.9,1)" fill="#f2f2f2" stroke="#f2f2f2" stroke-width="0.25" font-size="10" letter-spacing="0" text-anchor="middle">–23.6</text>
<rect x="423.10" y="48.10" width="24.10" height="461.70" rx="3.6" fill="#222222" stroke="#565656" stroke-width="1.6"/>
<rect x="425.15" y="49.20" width="20.00" height="459.50" fill="#1f1f1f" rx="1"/>
<rect x="422.10" y="185.70" width="2.00" height="5.20" fill="#292929"/>
<rect x="423.90" y="185.70" width="1.40" height="5.20" fill="#222222"/>
<path d="M423.10,185.10 l2.4,3.2 l-2.4,3.2" fill="none" stroke="#565656" stroke-width="1.6"/>
<line x1="426.90" y1="51.10" x2="443.40" y2="51.10" stroke="#6e6e6e" stroke-width="1.15" stroke-dasharray="1.3 0.6"/>
<line x1="431.65" y1="62.53" x2="438.65" y2="62.53" stroke="#6e6e6e" stroke-width="1.15" stroke-dasharray="1.3 0.6"/>
<line x1="431.65" y1="73.97" x2="438.65" y2="73.97" stroke="#6e6e6e" stroke-width="1.15" stroke-dasharray="1.3 0.6"/>
<line x1="426.90" y1="85.40" x2="443.40" y2="85.40" stroke="#6e6e6e" stroke-width="1.15" stroke-dasharray="1.3 0.6"/>
<line x1="431.65" y1="96.83" x2="438.65" y2="96.83" stroke="#6e6e6e" stroke-width="1.15" stroke-dasharray="1.3 0.6"/>
<line x1="431.65" y1="108.27" x2="438.65" y2="108.27" stroke="#6e6e6e" stroke-width="1.15" stroke-dasharray="1.3 0.6"/>
<line x1="431.65" y1="119.70" x2="438.65" y2="119.70" stroke="#6e6e6e" stroke-width="1.15" stroke-dasharray="1.3 0.6"/>
<line x1="431.65" y1="131.13" x2="438.65" y2="131.13" stroke="#6e6e6e" stroke-width="1.15" stroke-dasharray="1.3 0.6"/>
<line x1="431.65" y1="142.57" x2="438.65" y2="142.57" stroke="#6e6e6e" stroke-width="1.15" stroke-dasharray="1.3 0.6"/>
<line x1="431.65" y1="154.00" x2="438.65" y2="154.00" stroke="#6e6e6e" stroke-width="1.15" stroke-dasharray="1.3 0.6"/>
<line x1="431.65" y1="165.43" x2="438.65" y2="165.43" stroke="#6e6e6e" stroke-width="1.15" stroke-dasharray="1.3 0.6"/>
<line x1="431.65" y1="176.87" x2="438.65" y2="176.87" stroke="#6e6e6e" stroke-width="1.15" stroke-dasharray="1.3 0.6"/>
<line x1="431.65" y1="188.30" x2="438.65" y2="188.30" stroke="#6e6e6e" stroke-width="1.15" stroke-dasharray="1.3 0.6"/>
<line x1="426.90" y1="199.73" x2="443.40" y2="199.73" stroke="#6e6e6e" stroke-width="1.15" stroke-dasharray="1.3 0.6"/>
<line x1="431.65" y1="211.17" x2="438.65" y2="211.17" stroke="#6e6e6e" stroke-width="1.15" stroke-dasharray="1.3 0.6"/>
<line x1="431.65" y1="222.60" x2="438.65" y2="222.60" stroke="#6e6e6e" stroke-width="1.15" stroke-dasharray="1.3 0.6"/>
<line x1="431.65" y1="234.03" x2="438.65" y2="234.03" stroke="#6e6e6e" stroke-width="1.15" stroke-dasharray="1.3 0.6"/>
<line x1="431.65" y1="245.47" x2="438.65" y2="245.47" stroke="#6e6e6e" stroke-width="1.15" stroke-dasharray="1.3 0.6"/>
<line x1="431.65" y1="256.90" x2="438.65" y2="256.90" stroke="#6e6e6e" stroke-width="1.15" stroke-dasharray="1.3 0.6"/>
<line x1="426.90" y1="311.50" x2="443.40" y2="311.50" stroke="#6e6e6e" stroke-width="1.15" stroke-dasharray="1.3 0.6"/>
<line x1="431.65" y1="356.00" x2="438.65" y2="356.00" stroke="#6e6e6e" stroke-width="1.15" stroke-dasharray="1.3 0.6"/>
<line x1="426.90" y1="398.00" x2="443.40" y2="398.00" stroke="#6e6e6e" stroke-width="1.15" stroke-dasharray="1.3 0.6"/>
<line x1="431.65" y1="425.50" x2="438.65" y2="425.50" stroke="#6e6e6e" stroke-width="1.15" stroke-dasharray="1.3 0.6"/>
<line x1="426.90" y1="445.80" x2="443.40" y2="445.80" stroke="#6e6e6e" stroke-width="1.15" stroke-dasharray="1.3 0.6"/>
<line x1="426.90" y1="476.60" x2="443.40" y2="476.60" stroke="#6e6e6e" stroke-width="1.15" stroke-dasharray="1.3 0.6"/>
<line x1="426.90" y1="499.00" x2="443.40" y2="499.00" stroke="#6e6e6e" stroke-width="1.15" stroke-dasharray="1.3 0.6"/>
<rect x="425.40" y="348.60" width="19.50" height="159.40" fill="#120e16"/>
<rect x="424.90" y="315.10" width="20.50" height="4.90" fill="#120e16"/>
<rect x="426.70" y="349.60" width="16.90" height="157.40" fill="#f8ec1e"/>
<line x1="431.65" y1="356.00" x2="438.65" y2="356.00" stroke="#808080" stroke-width="1" stroke-dasharray="1.3 0.6" opacity="0.4"/>
<line x1="426.90" y1="398.00" x2="443.40" y2="398.00" stroke="#808080" stroke-width="1" stroke-dasharray="1.3 0.6" opacity="0.4"/>
<line x1="431.65" y1="425.50" x2="438.65" y2="425.50" stroke="#808080" stroke-width="1" stroke-dasharray="1.3 0.6" opacity="0.4"/>
<line x1="426.90" y1="445.80" x2="443.40" y2="445.80" stroke="#808080" stroke-width="1" stroke-dasharray="1.3 0.6" opacity="0.4"/>
<line x1="426.90" y1="476.60" x2="443.40" y2="476.60" stroke="#808080" stroke-width="1" stroke-dasharray="1.3 0.6" opacity="0.4"/>
<line x1="426.90" y1="499.00" x2="443.40" y2="499.00" stroke="#808080" stroke-width="1" stroke-dasharray="1.3 0.6" opacity="0.4"/>
<rect x="425.90" y="316.15" width="18.50" height="2.80" fill="#f8ec1e" rx="0.6"/>
<rect x="452.25" y="26.80" width="25.00" height="8.60" fill="#535353" rx="3"/>
<text transform="translate(464.75,34.10) scale(0.88,1)" fill="#f2f2f2" stroke="#f2f2f2" stroke-width="0.25" font-size="9.9" letter-spacing="0" text-anchor="middle">RS</text>
<text transform="translate(464.75,44.30) scale(0.9,1)" fill="#f2f2f2" stroke="#f2f2f2" stroke-width="0.25" font-size="10" letter-spacing="0" text-anchor="middle">–23.3</text>
<rect x="453.00" y="48.10" width="24.10" height="461.70" rx="3.6" fill="#222222" stroke="#565656" stroke-width="1.6"/>
<rect x="455.05" y="49.20" width="20.00" height="459.50" fill="#1f1f1f" rx="1"/>
<rect x="452.00" y="185.70" width="2.00" height="5.20" fill="#292929"/>
<rect x="453.80" y="185.70" width="1.40" height="5.20" fill="#222222"/>
<path d="M453.00,185.10 l2.4,3.2 l-2.4,3.2" fill="none" stroke="#565656" stroke-width="1.6"/>
<line x1="456.80" y1="51.10" x2="473.30" y2="51.10" stroke="#6e6e6e" stroke-width="1.15" stroke-dasharray="1.3 0.6"/>
<line x1="461.55" y1="62.53" x2="468.55" y2="62.53" stroke="#6e6e6e" stroke-width="1.15" stroke-dasharray="1.3 0.6"/>
<line x1="461.55" y1="73.97" x2="468.55" y2="73.97" stroke="#6e6e6e" stroke-width="1.15" stroke-dasharray="1.3 0.6"/>
<line x1="456.80" y1="85.40" x2="473.30" y2="85.40" stroke="#6e6e6e" stroke-width="1.15" stroke-dasharray="1.3 0.6"/>
<line x1="461.55" y1="96.83" x2="468.55" y2="96.83" stroke="#6e6e6e" stroke-width="1.15" stroke-dasharray="1.3 0.6"/>
<line x1="461.55" y1="108.27" x2="468.55" y2="108.27" stroke="#6e6e6e" stroke-width="1.15" stroke-dasharray="1.3 0.6"/>
<line x1="461.55" y1="119.70" x2="468.55" y2="119.70" stroke="#6e6e6e" stroke-width="1.15" stroke-dasharray="1.3 0.6"/>
<line x1="461.55" y1="131.13" x2="468.55" y2="131.13" stroke="#6e6e6e" stroke-width="1.15" stroke-dasharray="1.3 0.6"/>
<line x1="461.55" y1="142.57" x2="468.55" y2="142.57" stroke="#6e6e6e" stroke-width="1.15" stroke-dasharray="1.3 0.6"/>
<line x1="461.55" y1="154.00" x2="468.55" y2="154.00" stroke="#6e6e6e" stroke-width="1.15" stroke-dasharray="1.3 0.6"/>
<line x1="461.55" y1="165.43" x2="468.55" y2="165.43" stroke="#6e6e6e" stroke-width="1.15" stroke-dasharray="1.3 0.6"/>
<line x1="461.55" y1="176.87" x2="468.55" y2="176.87" stroke="#6e6e6e" stroke-width="1.15" stroke-dasharray="1.3 0.6"/>
<line x1="461.55" y1="188.30" x2="468.55" y2="188.30" stroke="#6e6e6e" stroke-width="1.15" stroke-dasharray="1.3 0.6"/>
<line x1="456.80" y1="199.73" x2="473.30" y2="199.73" stroke="#6e6e6e" stroke-width="1.15" stroke-dasharray="1.3 0.6"/>
<line x1="461.55" y1="211.17" x2="468.55" y2="211.17" stroke="#6e6e6e" stroke-width="1.15" stroke-dasharray="1.3 0.6"/>
<line x1="461.55" y1="222.60" x2="468.55" y2="222.60" stroke="#6e6e6e" stroke-width="1.15" stroke-dasharray="1.3 0.6"/>
<line x1="461.55" y1="234.03" x2="468.55" y2="234.03" stroke="#6e6e6e" stroke-width="1.15" stroke-dasharray="1.3 0.6"/>
<line x1="461.55" y1="245.47" x2="468.55" y2="245.47" stroke="#6e6e6e" stroke-width="1.15" stroke-dasharray="1.3 0.6"/>
<line x1="461.55" y1="256.90" x2="468.55" y2="256.90" stroke="#6e6e6e" stroke-width="1.15" stroke-dasharray="1.3 0.6"/>
<line x1="456.80" y1="311.50" x2="473.30" y2="311.50" stroke="#6e6e6e" stroke-width="1.15" stroke-dasharray="1.3 0.6"/>
<line x1="461.55" y1="356.00" x2="468.55" y2="356.00" stroke="#6e6e6e" stroke-width="1.15" stroke-dasharray="1.3 0.6"/>
<line x1="456.80" y1="398.00" x2="473.30" y2="398.00" stroke="#6e6e6e" stroke-width="1.15" stroke-dasharray="1.3 0.6"/>
<line x1="461.55" y1="425.50" x2="468.55" y2="425.50" stroke="#6e6e6e" stroke-width="1.15" stroke-dasharray="1.3 0.6"/>
<line x1="456.80" y1="445.80" x2="473.30" y2="445.80" stroke="#6e6e6e" stroke-width="1.15" stroke-dasharray="1.3 0.6"/>
<line x1="456.80" y1="476.60" x2="473.30" y2="476.60" stroke="#6e6e6e" stroke-width="1.15" stroke-dasharray="1.3 0.6"/>
<line x1="456.80" y1="499.00" x2="473.30" y2="499.00" stroke="#6e6e6e" stroke-width="1.15" stroke-dasharray="1.3 0.6"/>
<rect x="455.30" y="316.00" width="19.50" height="192.00" fill="#120e16"/>
<rect x="454.80" y="305.90" width="20.50" height="5.00" fill="#120e16"/>
<rect x="456.60" y="317.00" width="16.90" height="190.00" fill="#f8ec1e"/>
<line x1="461.55" y1="356.00" x2="468.55" y2="356.00" stroke="#808080" stroke-width="1" stroke-dasharray="1.3 0.6" opacity="0.4"/>
<line x1="456.80" y1="398.00" x2="473.30" y2="398.00" stroke="#808080" stroke-width="1" stroke-dasharray="1.3 0.6" opacity="0.4"/>
<line x1="461.55" y1="425.50" x2="468.55" y2="425.50" stroke="#808080" stroke-width="1" stroke-dasharray="1.3 0.6" opacity="0.4"/>
<line x1="456.80" y1="445.80" x2="473.30" y2="445.80" stroke="#808080" stroke-width="1" stroke-dasharray="1.3 0.6" opacity="0.4"/>
<line x1="456.80" y1="476.60" x2="473.30" y2="476.60" stroke="#808080" stroke-width="1" stroke-dasharray="1.3 0.6" opacity="0.4"/>
<line x1="456.80" y1="499.00" x2="473.30" y2="499.00" stroke="#808080" stroke-width="1" stroke-dasharray="1.3 0.6" opacity="0.4"/>
<rect x="455.80" y="306.95" width="18.50" height="2.90" fill="#f8ec1e" rx="0.6"/>
<rect x="529.90" y="7.00" width="271.00" height="509.50" fill="#080808" rx="1"/>
<rect x="531.60" y="10.00" width="267.60" height="504.60" fill="#3a3a3a" rx="1.5"/>
<rect x="532.40" y="10.80" width="266.00" height="503.20" fill="#292929" rx="1"/>
<path d="M529.9,7 h4 l-4,4 z M800.9,516.5 h-4 l4,-4 z" fill="#080808"/>
<path d="M546.00,11.70 l-12.2,12.2" stroke="#101010" stroke-width="1.4" fill="none" opacity="0.7"/>
<path d="M533.4,11.3 h11.9 l-11.9,11.6 z" fill="#e62228" stroke="#fb2a30" stroke-width="0.7" stroke-linejoin="round"/>
<text transform="translate(551.50,23.20) scale(0.945,1)" fill="#f0f0f0" stroke="#f0f0f0" stroke-width="0.4" font-size="9.9" letter-spacing="0" text-anchor="start">MULTI</text>
<rect x="551.60" y="50.80" width="2.60" height="456.00" fill="#a2a2a2"/>
<rect x="551.60" y="50.80" width="2.60" height="103.20" fill="#e08888"/>
<line x1="554.10" y1="51.10" x2="561.30" y2="51.10" stroke="#858585" stroke-width="1" />
<line x1="554.10" y1="62.51" x2="557.30" y2="62.51" stroke="#7c7c7c" stroke-width="1" />
<line x1="554.10" y1="73.92" x2="557.30" y2="73.92" stroke="#7c7c7c" stroke-width="1" />
<line x1="554.10" y1="85.32" x2="557.30" y2="85.32" stroke="#7c7c7c" stroke-width="1" />
<line x1="554.10" y1="96.73" x2="557.30" y2="96.73" stroke="#7c7c7c" stroke-width="1" />
<line x1="554.10" y1="108.14" x2="557.30" y2="108.14" stroke="#7c7c7c" stroke-width="1" />
<line x1="554.10" y1="119.55" x2="557.30" y2="119.55" stroke="#7c7c7c" stroke-width="1" />
<line x1="554.10" y1="130.95" x2="557.30" y2="130.95" stroke="#7c7c7c" stroke-width="1" />
<line x1="554.10" y1="142.36" x2="557.30" y2="142.36" stroke="#7c7c7c" stroke-width="1" />
<line x1="554.10" y1="153.77" x2="557.30" y2="153.77" stroke="#7c7c7c" stroke-width="1" />
<line x1="554.10" y1="165.18" x2="561.30" y2="165.18" stroke="#858585" stroke-width="1" />
<line x1="554.10" y1="176.58" x2="557.30" y2="176.58" stroke="#7c7c7c" stroke-width="1" />
<line x1="554.10" y1="187.99" x2="557.30" y2="187.99" stroke="#7c7c7c" stroke-width="1" />
<line x1="554.10" y1="199.40" x2="557.30" y2="199.40" stroke="#7c7c7c" stroke-width="1" />
<line x1="554.10" y1="210.80" x2="557.30" y2="210.80" stroke="#7c7c7c" stroke-width="1" />
<line x1="554.10" y1="222.21" x2="557.30" y2="222.21" stroke="#7c7c7c" stroke-width="1" />
<line x1="554.10" y1="233.62" x2="557.30" y2="233.62" stroke="#7c7c7c" stroke-width="1" />
<line x1="554.10" y1="245.03" x2="557.30" y2="245.03" stroke="#7c7c7c" stroke-width="1" />
<line x1="554.10" y1="256.44" x2="557.30" y2="256.44" stroke="#7c7c7c" stroke-width="1" />
<line x1="554.10" y1="267.84" x2="557.30" y2="267.84" stroke="#7c7c7c" stroke-width="1" />
<line x1="554.10" y1="279.25" x2="561.30" y2="279.25" stroke="#858585" stroke-width="1" />
<line x1="554.10" y1="331.25" x2="557.30" y2="331.25" stroke="#7c7c7c" stroke-width="1" />
<line x1="554.10" y1="373.70" x2="561.30" y2="373.70" stroke="#858585" stroke-width="1" />
<line x1="554.10" y1="414.80" x2="557.30" y2="414.80" stroke="#7c7c7c" stroke-width="1" />
<line x1="554.10" y1="445.90" x2="561.30" y2="445.90" stroke="#858585" stroke-width="1" />
<line x1="554.10" y1="476.60" x2="557.30" y2="476.60" stroke="#7c7c7c" stroke-width="1" />
<line x1="554.10" y1="499.00" x2="561.30" y2="499.00" stroke="#858585" stroke-width="1" />
<text transform="translate(541.80,54.30) scale(0.95,1)" fill="#ececec" stroke="#ececec" stroke-width="0.2" font-size="9.2" letter-spacing="0" text-anchor="middle">0</text>
<text transform="translate(541.80,168.38) scale(0.95,1)" fill="#ececec" stroke="#ececec" stroke-width="0.2" font-size="9.2" letter-spacing="0" text-anchor="middle">10</text>
<text transform="translate(541.80,282.45) scale(0.95,1)" fill="#ececec" stroke="#ececec" stroke-width="0.2" font-size="9.2" letter-spacing="0" text-anchor="middle">20</text>
<text transform="translate(541.80,376.90) scale(0.95,1)" fill="#ececec" stroke="#ececec" stroke-width="0.2" font-size="9.2" letter-spacing="0" text-anchor="middle">30</text>
<text transform="translate(541.80,449.10) scale(0.95,1)" fill="#ececec" stroke="#ececec" stroke-width="0.2" font-size="9.2" letter-spacing="0" text-anchor="middle">40</text>
<text transform="translate(541.80,502.20) scale(0.95,1)" fill="#ececec" stroke="#ececec" stroke-width="0.2" font-size="9.2" letter-spacing="0" text-anchor="middle">60</text>
<rect x="561.10" y="26.80" width="24.00" height="8.60" fill="#535353" rx="3"/>
<text transform="translate(573.10,34.10) scale(0.88,1)" fill="#f2f2f2" stroke="#f2f2f2" stroke-width="0.25" font-size="9.9" letter-spacing="0" text-anchor="middle">1</text>
<text transform="translate(573.10,44.30) scale(0.9,1)" fill="#f2f2f2" stroke="#f2f2f2" stroke-width="0.25" font-size="10" letter-spacing="0" text-anchor="middle">–23.6</text>
<rect x="562.20" y="48.20" width="22.40" height="461.50" rx="3.6" fill="#101010" stroke="#545454" stroke-width="1.8"/>
<rect x="566.00" y="49.40" width="14.80" height="459.10" fill="#222222" rx="1"/>
<rect x="561.10" y="151.17" width="2.20" height="5.20" fill="#292929"/>
<rect x="563.10" y="151.17" width="1.40" height="5.20" fill="#101010"/>
<path d="M562.20,150.57 l2.4,3.2 l-2.4,3.2" fill="none" stroke="#545454" stroke-width="1.8"/>
<line x1="565.90" y1="51.10" x2="580.90" y2="51.10" stroke="#6e6e6e" stroke-width="1.15" stroke-dasharray="1.3 0.6"/>
<line x1="569.90" y1="62.51" x2="576.90" y2="62.51" stroke="#6e6e6e" stroke-width="1.15" stroke-dasharray="1.3 0.6"/>
<line x1="569.90" y1="73.92" x2="576.90" y2="73.92" stroke="#6e6e6e" stroke-width="1.15" stroke-dasharray="1.3 0.6"/>
<line x1="569.90" y1="85.32" x2="576.90" y2="85.32" stroke="#6e6e6e" stroke-width="1.15" stroke-dasharray="1.3 0.6"/>
<line x1="569.90" y1="96.73" x2="576.90" y2="96.73" stroke="#6e6e6e" stroke-width="1.15" stroke-dasharray="1.3 0.6"/>
<line x1="569.90" y1="108.14" x2="576.90" y2="108.14" stroke="#6e6e6e" stroke-width="1.15" stroke-dasharray="1.3 0.6"/>
<line x1="569.90" y1="119.55" x2="576.90" y2="119.55" stroke="#6e6e6e" stroke-width="1.15" stroke-dasharray="1.3 0.6"/>
<line x1="569.90" y1="130.95" x2="576.90" y2="130.95" stroke="#6e6e6e" stroke-width="1.15" stroke-dasharray="1.3 0.6"/>
<line x1="569.90" y1="142.36" x2="576.90" y2="142.36" stroke="#6e6e6e" stroke-width="1.15" stroke-dasharray="1.3 0.6"/>
<line x1="569.90" y1="153.77" x2="576.90" y2="153.77" stroke="#6e6e6e" stroke-width="1.15" stroke-dasharray="1.3 0.6"/>
<line x1="565.90" y1="165.18" x2="580.90" y2="165.18" stroke="#6e6e6e" stroke-width="1.15" stroke-dasharray="1.3 0.6"/>
<line x1="569.90" y1="176.58" x2="576.90" y2="176.58" stroke="#6e6e6e" stroke-width="1.15" stroke-dasharray="1.3 0.6"/>
<line x1="569.90" y1="187.99" x2="576.90" y2="187.99" stroke="#6e6e6e" stroke-width="1.15" stroke-dasharray="1.3 0.6"/>
<line x1="569.90" y1="199.40" x2="576.90" y2="199.40" stroke="#6e6e6e" stroke-width="1.15" stroke-dasharray="1.3 0.6"/>
<line x1="569.90" y1="210.80" x2="576.90" y2="210.80" stroke="#6e6e6e" stroke-width="1.15" stroke-dasharray="1.3 0.6"/>
<line x1="569.90" y1="222.21" x2="576.90" y2="222.21" stroke="#6e6e6e" stroke-width="1.15" stroke-dasharray="1.3 0.6"/>
<line x1="569.90" y1="233.62" x2="576.90" y2="233.62" stroke="#6e6e6e" stroke-width="1.15" stroke-dasharray="1.3 0.6"/>
<line x1="569.90" y1="245.03" x2="576.90" y2="245.03" stroke="#6e6e6e" stroke-width="1.15" stroke-dasharray="1.3 0.6"/>
<line x1="569.90" y1="256.44" x2="576.90" y2="256.44" stroke="#6e6e6e" stroke-width="1.15" stroke-dasharray="1.3 0.6"/>
<line x1="569.90" y1="267.84" x2="576.90" y2="267.84" stroke="#6e6e6e" stroke-width="1.15" stroke-dasharray="1.3 0.6"/>
<line x1="565.90" y1="279.25" x2="580.90" y2="279.25" stroke="#6e6e6e" stroke-width="1.15" stroke-dasharray="1.3 0.6"/>
<line x1="569.90" y1="331.25" x2="576.90" y2="331.25" stroke="#6e6e6e" stroke-width="1.15" stroke-dasharray="1.3 0.6"/>
<line x1="565.90" y1="373.70" x2="580.90" y2="373.70" stroke="#6e6e6e" stroke-width="1.15" stroke-dasharray="1.3 0.6"/>
<line x1="569.90" y1="414.80" x2="576.90" y2="414.80" stroke="#6e6e6e" stroke-width="1.15" stroke-dasharray="1.3 0.6"/>
<line x1="565.90" y1="445.90" x2="580.90" y2="445.90" stroke="#6e6e6e" stroke-width="1.15" stroke-dasharray="1.3 0.6"/>
<line x1="565.90" y1="476.60" x2="580.90" y2="476.60" stroke="#6e6e6e" stroke-width="1.15" stroke-dasharray="1.3 0.6"/>
<line x1="565.90" y1="499.00" x2="580.90" y2="499.00" stroke="#6e6e6e" stroke-width="1.15" stroke-dasharray="1.3 0.6"/>
<rect x="564.55" y="306.00" width="17.70" height="202.00" fill="#120e16"/>
<rect x="564.05" y="278.40" width="18.70" height="5.00" fill="#120e16" rx="1.2"/>
<rect x="565.85" y="307.00" width="15.10" height="200.00" fill="#ee2326"/>
<line x1="569.90" y1="331.25" x2="576.90" y2="331.25" stroke="#808080" stroke-width="1" stroke-dasharray="1.3 0.6" opacity="0.4"/>
<line x1="565.90" y1="373.70" x2="580.90" y2="373.70" stroke="#808080" stroke-width="1" stroke-dasharray="1.3 0.6" opacity="0.4"/>
<line x1="569.90" y1="414.80" x2="576.90" y2="414.80" stroke="#808080" stroke-width="1" stroke-dasharray="1.3 0.6" opacity="0.4"/>
<line x1="565.90" y1="445.90" x2="580.90" y2="445.90" stroke="#808080" stroke-width="1" stroke-dasharray="1.3 0.6" opacity="0.4"/>
<line x1="565.90" y1="476.60" x2="580.90" y2="476.60" stroke="#808080" stroke-width="1" stroke-dasharray="1.3 0.6" opacity="0.4"/>
<line x1="565.90" y1="499.00" x2="580.90" y2="499.00" stroke="#808080" stroke-width="1" stroke-dasharray="1.3 0.6" opacity="0.4"/>
<rect x="565.05" y="279.45" width="16.70" height="2.90" fill="#ffffff" rx="1.2"/>
<rect x="591.00" y="26.80" width="24.00" height="8.60" fill="#535353" rx="3"/>
<text transform="translate(603.00,34.10) scale(0.88,1)" fill="#f2f2f2" stroke="#f2f2f2" stroke-width="0.25" font-size="9.9" letter-spacing="0" text-anchor="middle">2</text>
<text transform="translate(603.00,44.30) scale(0.9,1)" fill="#f2f2f2" stroke="#f2f2f2" stroke-width="0.25" font-size="10" letter-spacing="0" text-anchor="middle">–23.9</text>
<rect x="592.10" y="48.20" width="22.40" height="461.50" rx="3.6" fill="#101010" stroke="#545454" stroke-width="1.8"/>
<rect x="595.90" y="49.40" width="14.80" height="459.10" fill="#222222" rx="1"/>
<rect x="591.00" y="151.17" width="2.20" height="5.20" fill="#292929"/>
<rect x="593.00" y="151.17" width="1.40" height="5.20" fill="#101010"/>
<path d="M592.10,150.57 l2.4,3.2 l-2.4,3.2" fill="none" stroke="#545454" stroke-width="1.8"/>
<line x1="595.80" y1="51.10" x2="610.80" y2="51.10" stroke="#6e6e6e" stroke-width="1.15" stroke-dasharray="1.3 0.6"/>
<line x1="599.80" y1="62.51" x2="606.80" y2="62.51" stroke="#6e6e6e" stroke-width="1.15" stroke-dasharray="1.3 0.6"/>
<line x1="599.80" y1="73.92" x2="606.80" y2="73.92" stroke="#6e6e6e" stroke-width="1.15" stroke-dasharray="1.3 0.6"/>
<line x1="599.80" y1="85.32" x2="606.80" y2="85.32" stroke="#6e6e6e" stroke-width="1.15" stroke-dasharray="1.3 0.6"/>
<line x1="599.80" y1="96.73" x2="606.80" y2="96.73" stroke="#6e6e6e" stroke-width="1.15" stroke-dasharray="1.3 0.6"/>
<line x1="599.80" y1="108.14" x2="606.80" y2="108.14" stroke="#6e6e6e" stroke-width="1.15" stroke-dasharray="1.3 0.6"/>
<line x1="599.80" y1="119.55" x2="606.80" y2="119.55" stroke="#6e6e6e" stroke-width="1.15" stroke-dasharray="1.3 0.6"/>
<line x1="599.80" y1="130.95" x2="606.80" y2="130.95" stroke="#6e6e6e" stroke-width="1.15" stroke-dasharray="1.3 0.6"/>
<line x1="599.80" y1="142.36" x2="606.80" y2="142.36" stroke="#6e6e6e" stroke-width="1.15" stroke-dasharray="1.3 0.6"/>
<line x1="599.80" y1="153.77" x2="606.80" y2="153.77" stroke="#6e6e6e" stroke-width="1.15" stroke-dasharray="1.3 0.6"/>
<line x1="595.80" y1="165.18" x2="610.80" y2="165.18" stroke="#6e6e6e" stroke-width="1.15" stroke-dasharray="1.3 0.6"/>
<line x1="599.80" y1="176.58" x2="606.80" y2="176.58" stroke="#6e6e6e" stroke-width="1.15" stroke-dasharray="1.3 0.6"/>
<line x1="599.80" y1="187.99" x2="606.80" y2="187.99" stroke="#6e6e6e" stroke-width="1.15" stroke-dasharray="1.3 0.6"/>
<line x1="599.80" y1="199.40" x2="606.80" y2="199.40" stroke="#6e6e6e" stroke-width="1.15" stroke-dasharray="1.3 0.6"/>
<line x1="599.80" y1="210.80" x2="606.80" y2="210.80" stroke="#6e6e6e" stroke-width="1.15" stroke-dasharray="1.3 0.6"/>
<line x1="599.80" y1="222.21" x2="606.80" y2="222.21" stroke="#6e6e6e" stroke-width="1.15" stroke-dasharray="1.3 0.6"/>
<line x1="599.80" y1="233.62" x2="606.80" y2="233.62" stroke="#6e6e6e" stroke-width="1.15" stroke-dasharray="1.3 0.6"/>
<line x1="599.80" y1="245.03" x2="606.80" y2="245.03" stroke="#6e6e6e" stroke-width="1.15" stroke-dasharray="1.3 0.6"/>
<line x1="599.80" y1="256.44" x2="606.80" y2="256.44" stroke="#6e6e6e" stroke-width="1.15" stroke-dasharray="1.3 0.6"/>
<line x1="599.80" y1="267.84" x2="606.80" y2="267.84" stroke="#6e6e6e" stroke-width="1.15" stroke-dasharray="1.3 0.6"/>
<line x1="595.80" y1="279.25" x2="610.80" y2="279.25" stroke="#6e6e6e" stroke-width="1.15" stroke-dasharray="1.3 0.6"/>
<line x1="599.80" y1="331.25" x2="606.80" y2="331.25" stroke="#6e6e6e" stroke-width="1.15" stroke-dasharray="1.3 0.6"/>
<line x1="595.80" y1="373.70" x2="610.80" y2="373.70" stroke="#6e6e6e" stroke-width="1.15" stroke-dasharray="1.3 0.6"/>
<line x1="599.80" y1="414.80" x2="606.80" y2="414.80" stroke="#6e6e6e" stroke-width="1.15" stroke-dasharray="1.3 0.6"/>
<line x1="595.80" y1="445.90" x2="610.80" y2="445.90" stroke="#6e6e6e" stroke-width="1.15" stroke-dasharray="1.3 0.6"/>
<line x1="595.80" y1="476.60" x2="610.80" y2="476.60" stroke="#6e6e6e" stroke-width="1.15" stroke-dasharray="1.3 0.6"/>
<line x1="595.80" y1="499.00" x2="610.80" y2="499.00" stroke="#6e6e6e" stroke-width="1.15" stroke-dasharray="1.3 0.6"/>
<rect x="594.45" y="308.60" width="17.70" height="199.40" fill="#120e16"/>
<rect x="593.95" y="286.10" width="18.70" height="4.90" fill="#120e16" rx="1.2"/>
<rect x="595.75" y="309.60" width="15.10" height="197.40" fill="#f8ec1e"/>
<line x1="599.80" y1="331.25" x2="606.80" y2="331.25" stroke="#808080" stroke-width="1" stroke-dasharray="1.3 0.6" opacity="0.4"/>
<line x1="595.80" y1="373.70" x2="610.80" y2="373.70" stroke="#808080" stroke-width="1" stroke-dasharray="1.3 0.6" opacity="0.4"/>
<line x1="599.80" y1="414.80" x2="606.80" y2="414.80" stroke="#808080" stroke-width="1" stroke-dasharray="1.3 0.6" opacity="0.4"/>
<line x1="595.80" y1="445.90" x2="610.80" y2="445.90" stroke="#808080" stroke-width="1" stroke-dasharray="1.3 0.6" opacity="0.4"/>
<line x1="595.80" y1="476.60" x2="610.80" y2="476.60" stroke="#808080" stroke-width="1" stroke-dasharray="1.3 0.6" opacity="0.4"/>
<line x1="595.80" y1="499.00" x2="610.80" y2="499.00" stroke="#808080" stroke-width="1" stroke-dasharray="1.3 0.6" opacity="0.4"/>
<rect x="594.95" y="287.15" width="16.70" height="2.80" fill="#ffffff" rx="1.2"/>
<rect x="620.90" y="26.80" width="24.00" height="8.60" fill="#535353" rx="3"/>
<text transform="translate(632.90,34.10) scale(0.88,1)" fill="#f2f2f2" stroke="#f2f2f2" stroke-width="0.25" font-size="9.9" letter-spacing="0" text-anchor="middle">3</text>
<text transform="translate(632.90,44.30) scale(0.9,1)" fill="#f2f2f2" stroke="#f2f2f2" stroke-width="0.25" font-size="10" letter-spacing="0" text-anchor="middle">–21.3</text>
<rect x="622.00" y="48.20" width="22.40" height="461.50" rx="3.6" fill="#101010" stroke="#545454" stroke-width="1.8"/>
<rect x="625.80" y="49.40" width="14.80" height="459.10" fill="#222222" rx="1"/>
<rect x="620.90" y="151.17" width="2.20" height="5.20" fill="#292929"/>
<rect x="622.90" y="151.17" width="1.40" height="5.20" fill="#101010"/>
<path d="M622.00,150.57 l2.4,3.2 l-2.4,3.2" fill="none" stroke="#545454" stroke-width="1.8"/>
<line x1="625.70" y1="51.10" x2="640.70" y2="51.10" stroke="#6e6e6e" stroke-width="1.15" stroke-dasharray="1.3 0.6"/>
<line x1="629.70" y1="62.51" x2="636.70" y2="62.51" stroke="#6e6e6e" stroke-width="1.15" stroke-dasharray="1.3 0.6"/>
<line x1="629.70" y1="73.92" x2="636.70" y2="73.92" stroke="#6e6e6e" stroke-width="1.15" stroke-dasharray="1.3 0.6"/>
<line x1="629.70" y1="85.32" x2="636.70" y2="85.32" stroke="#6e6e6e" stroke-width="1.15" stroke-dasharray="1.3 0.6"/>
<line x1="629.70" y1="96.73" x2="636.70" y2="96.73" stroke="#6e6e6e" stroke-width="1.15" stroke-dasharray="1.3 0.6"/>
<line x1="629.70" y1="108.14" x2="636.70" y2="108.14" stroke="#6e6e6e" stroke-width="1.15" stroke-dasharray="1.3 0.6"/>
<line x1="629.70" y1="119.55" x2="636.70" y2="119.55" stroke="#6e6e6e" stroke-width="1.15" stroke-dasharray="1.3 0.6"/>
<line x1="629.70" y1="130.95" x2="636.70" y2="130.95" stroke="#6e6e6e" stroke-width="1.15" stroke-dasharray="1.3 0.6"/>
<line x1="629.70" y1="142.36" x2="636.70" y2="142.36" stroke="#6e6e6e" stroke-width="1.15" stroke-dasharray="1.3 0.6"/>
<line x1="629.70" y1="153.77" x2="636.70" y2="153.77" stroke="#6e6e6e" stroke-width="1.15" stroke-dasharray="1.3 0.6"/>
<line x1="625.70" y1="165.18" x2="640.70" y2="165.18" stroke="#6e6e6e" stroke-width="1.15" stroke-dasharray="1.3 0.6"/>
<line x1="629.70" y1="176.58" x2="636.70" y2="176.58" stroke="#6e6e6e" stroke-width="1.15" stroke-dasharray="1.3 0.6"/>
<line x1="629.70" y1="187.99" x2="636.70" y2="187.99" stroke="#6e6e6e" stroke-width="1.15" stroke-dasharray="1.3 0.6"/>
<line x1="629.70" y1="199.40" x2="636.70" y2="199.40" stroke="#6e6e6e" stroke-width="1.15" stroke-dasharray="1.3 0.6"/>
<line x1="629.70" y1="210.80" x2="636.70" y2="210.80" stroke="#6e6e6e" stroke-width="1.15" stroke-dasharray="1.3 0.6"/>
<line x1="629.70" y1="222.21" x2="636.70" y2="222.21" stroke="#6e6e6e" stroke-width="1.15" stroke-dasharray="1.3 0.6"/>
<line x1="629.70" y1="233.62" x2="636.70" y2="233.62" stroke="#6e6e6e" stroke-width="1.15" stroke-dasharray="1.3 0.6"/>
<line x1="629.70" y1="245.03" x2="636.70" y2="245.03" stroke="#6e6e6e" stroke-width="1.15" stroke-dasharray="1.3 0.6"/>
<line x1="629.70" y1="256.44" x2="636.70" y2="256.44" stroke="#6e6e6e" stroke-width="1.15" stroke-dasharray="1.3 0.6"/>
<line x1="629.70" y1="267.84" x2="636.70" y2="267.84" stroke="#6e6e6e" stroke-width="1.15" stroke-dasharray="1.3 0.6"/>
<line x1="625.70" y1="279.25" x2="640.70" y2="279.25" stroke="#6e6e6e" stroke-width="1.15" stroke-dasharray="1.3 0.6"/>
<line x1="629.70" y1="331.25" x2="636.70" y2="331.25" stroke="#6e6e6e" stroke-width="1.15" stroke-dasharray="1.3 0.6"/>
<line x1="625.70" y1="373.70" x2="640.70" y2="373.70" stroke="#6e6e6e" stroke-width="1.15" stroke-dasharray="1.3 0.6"/>
<line x1="629.70" y1="414.80" x2="636.70" y2="414.80" stroke="#6e6e6e" stroke-width="1.15" stroke-dasharray="1.3 0.6"/>
<line x1="625.70" y1="445.90" x2="640.70" y2="445.90" stroke="#6e6e6e" stroke-width="1.15" stroke-dasharray="1.3 0.6"/>
<line x1="625.70" y1="476.60" x2="640.70" y2="476.60" stroke="#6e6e6e" stroke-width="1.15" stroke-dasharray="1.3 0.6"/>
<line x1="625.70" y1="499.00" x2="640.70" y2="499.00" stroke="#6e6e6e" stroke-width="1.15" stroke-dasharray="1.3 0.6"/>
<rect x="624.35" y="295.20" width="17.70" height="212.80" fill="#120e16"/>
<rect x="623.85" y="246.10" width="18.70" height="4.90" fill="#120e16" rx="1.2"/>
<rect x="625.65" y="296.20" width="15.10" height="210.80" fill="#25b04c"/>
<line x1="629.70" y1="331.25" x2="636.70" y2="331.25" stroke="#808080" stroke-width="1" stroke-dasharray="1.3 0.6" opacity="0.4"/>
<line x1="625.70" y1="373.70" x2="640.70" y2="373.70" stroke="#808080" stroke-width="1" stroke-dasharray="1.3 0.6" opacity="0.4"/>
<line x1="629.70" y1="414.80" x2="636.70" y2="414.80" stroke="#808080" stroke-width="1" stroke-dasharray="1.3 0.6" opacity="0.4"/>
<line x1="625.70" y1="445.90" x2="640.70" y2="445.90" stroke="#808080" stroke-width="1" stroke-dasharray="1.3 0.6" opacity="0.4"/>
<line x1="625.70" y1="476.60" x2="640.70" y2="476.60" stroke="#808080" stroke-width="1" stroke-dasharray="1.3 0.6" opacity="0.4"/>
<line x1="625.70" y1="499.00" x2="640.70" y2="499.00" stroke="#808080" stroke-width="1" stroke-dasharray="1.3 0.6" opacity="0.4"/>
<rect x="624.85" y="247.15" width="16.70" height="2.80" fill="#ffffff" rx="1.2"/>
<rect x="650.80" y="26.80" width="24.00" height="8.60" fill="#535353" rx="3"/>
<text transform="translate(662.80,34.10) scale(0.88,1)" fill="#f2f2f2" stroke="#f2f2f2" stroke-width="0.25" font-size="9.9" letter-spacing="0" text-anchor="middle">4</text>
<text transform="translate(662.80,44.30) scale(0.9,1)" fill="#f2f2f2" stroke="#f2f2f2" stroke-width="0.25" font-size="10" letter-spacing="0" text-anchor="middle">–42.2</text>
<rect x="651.90" y="48.20" width="22.40" height="461.50" rx="3.6" fill="#101010" stroke="#545454" stroke-width="1.8"/>
<rect x="655.70" y="49.40" width="14.80" height="459.10" fill="#222222" rx="1"/>
<rect x="650.80" y="151.17" width="2.20" height="5.20" fill="#292929"/>
<rect x="652.80" y="151.17" width="1.40" height="5.20" fill="#101010"/>
<path d="M651.90,150.57 l2.4,3.2 l-2.4,3.2" fill="none" stroke="#545454" stroke-width="1.8"/>
<line x1="655.60" y1="51.10" x2="670.60" y2="51.10" stroke="#6e6e6e" stroke-width="1.15" stroke-dasharray="1.3 0.6"/>
<line x1="659.60" y1="62.51" x2="666.60" y2="62.51" stroke="#6e6e6e" stroke-width="1.15" stroke-dasharray="1.3 0.6"/>
<line x1="659.60" y1="73.92" x2="666.60" y2="73.92" stroke="#6e6e6e" stroke-width="1.15" stroke-dasharray="1.3 0.6"/>
<line x1="659.60" y1="85.32" x2="666.60" y2="85.32" stroke="#6e6e6e" stroke-width="1.15" stroke-dasharray="1.3 0.6"/>
<line x1="659.60" y1="96.73" x2="666.60" y2="96.73" stroke="#6e6e6e" stroke-width="1.15" stroke-dasharray="1.3 0.6"/>
<line x1="659.60" y1="108.14" x2="666.60" y2="108.14" stroke="#6e6e6e" stroke-width="1.15" stroke-dasharray="1.3 0.6"/>
<line x1="659.60" y1="119.55" x2="666.60" y2="119.55" stroke="#6e6e6e" stroke-width="1.15" stroke-dasharray="1.3 0.6"/>
<line x1="659.60" y1="130.95" x2="666.60" y2="130.95" stroke="#6e6e6e" stroke-width="1.15" stroke-dasharray="1.3 0.6"/>
<line x1="659.60" y1="142.36" x2="666.60" y2="142.36" stroke="#6e6e6e" stroke-width="1.15" stroke-dasharray="1.3 0.6"/>
<line x1="659.60" y1="153.77" x2="666.60" y2="153.77" stroke="#6e6e6e" stroke-width="1.15" stroke-dasharray="1.3 0.6"/>
<line x1="655.60" y1="165.18" x2="670.60" y2="165.18" stroke="#6e6e6e" stroke-width="1.15" stroke-dasharray="1.3 0.6"/>
<line x1="659.60" y1="176.58" x2="666.60" y2="176.58" stroke="#6e6e6e" stroke-width="1.15" stroke-dasharray="1.3 0.6"/>
<line x1="659.60" y1="187.99" x2="666.60" y2="187.99" stroke="#6e6e6e" stroke-width="1.15" stroke-dasharray="1.3 0.6"/>
<line x1="659.60" y1="199.40" x2="666.60" y2="199.40" stroke="#6e6e6e" stroke-width="1.15" stroke-dasharray="1.3 0.6"/>
<line x1="659.60" y1="210.80" x2="666.60" y2="210.80" stroke="#6e6e6e" stroke-width="1.15" stroke-dasharray="1.3 0.6"/>
<line x1="659.60" y1="222.21" x2="666.60" y2="222.21" stroke="#6e6e6e" stroke-width="1.15" stroke-dasharray="1.3 0.6"/>
<line x1="659.60" y1="233.62" x2="666.60" y2="233.62" stroke="#6e6e6e" stroke-width="1.15" stroke-dasharray="1.3 0.6"/>
<line x1="659.60" y1="245.03" x2="666.60" y2="245.03" stroke="#6e6e6e" stroke-width="1.15" stroke-dasharray="1.3 0.6"/>
<line x1="659.60" y1="256.44" x2="666.60" y2="256.44" stroke="#6e6e6e" stroke-width="1.15" stroke-dasharray="1.3 0.6"/>
<line x1="659.60" y1="267.84" x2="666.60" y2="267.84" stroke="#6e6e6e" stroke-width="1.15" stroke-dasharray="1.3 0.6"/>
<line x1="655.60" y1="279.25" x2="670.60" y2="279.25" stroke="#6e6e6e" stroke-width="1.15" stroke-dasharray="1.3 0.6"/>
<line x1="659.60" y1="331.25" x2="666.60" y2="331.25" stroke="#6e6e6e" stroke-width="1.15" stroke-dasharray="1.3 0.6"/>
<line x1="655.60" y1="373.70" x2="670.60" y2="373.70" stroke="#6e6e6e" stroke-width="1.15" stroke-dasharray="1.3 0.6"/>
<line x1="659.60" y1="414.80" x2="666.60" y2="414.80" stroke="#6e6e6e" stroke-width="1.15" stroke-dasharray="1.3 0.6"/>
<line x1="655.60" y1="445.90" x2="670.60" y2="445.90" stroke="#6e6e6e" stroke-width="1.15" stroke-dasharray="1.3 0.6"/>
<line x1="655.60" y1="476.60" x2="670.60" y2="476.60" stroke="#6e6e6e" stroke-width="1.15" stroke-dasharray="1.3 0.6"/>
<line x1="655.60" y1="499.00" x2="670.60" y2="499.00" stroke="#6e6e6e" stroke-width="1.15" stroke-dasharray="1.3 0.6"/>
<rect x="654.25" y="434.50" width="17.70" height="73.50" fill="#120e16"/>
<rect x="653.75" y="431.50" width="18.70" height="5.00" fill="#120e16" rx="1.2"/>
<rect x="655.55" y="435.50" width="15.10" height="71.50" fill="#fdb813"/>
<line x1="655.60" y1="445.90" x2="670.60" y2="445.90" stroke="#808080" stroke-width="1" stroke-dasharray="1.3 0.6" opacity="0.4"/>
<line x1="655.60" y1="476.60" x2="670.60" y2="476.60" stroke="#808080" stroke-width="1" stroke-dasharray="1.3 0.6" opacity="0.4"/>
<line x1="655.60" y1="499.00" x2="670.60" y2="499.00" stroke="#808080" stroke-width="1" stroke-dasharray="1.3 0.6" opacity="0.4"/>
<rect x="654.75" y="432.55" width="16.70" height="2.90" fill="#ffffff" rx="1.2"/>
<rect x="680.70" y="26.80" width="24.00" height="8.60" fill="#535353" rx="3"/>
<text transform="translate(692.70,34.10) scale(0.88,1)" fill="#f2f2f2" stroke="#f2f2f2" stroke-width="0.25" font-size="9.9" letter-spacing="0" text-anchor="middle">5</text>
<text transform="translate(692.70,44.30) scale(0.9,1)" fill="#f2f2f2" stroke="#f2f2f2" stroke-width="0.25" font-size="10" letter-spacing="0" text-anchor="middle">–33.2</text>
<rect x="681.80" y="48.20" width="22.40" height="461.50" rx="3.6" fill="#101010" stroke="#545454" stroke-width="1.8"/>
<rect x="685.60" y="49.40" width="14.80" height="459.10" fill="#222222" rx="1"/>
<rect x="680.70" y="151.17" width="2.20" height="5.20" fill="#292929"/>
<rect x="682.70" y="151.17" width="1.40" height="5.20" fill="#101010"/>
<path d="M681.80,150.57 l2.4,3.2 l-2.4,3.2" fill="none" stroke="#545454" stroke-width="1.8"/>
<line x1="685.50" y1="51.10" x2="700.50" y2="51.10" stroke="#6e6e6e" stroke-width="1.15" stroke-dasharray="1.3 0.6"/>
<line x1="689.50" y1="62.51" x2="696.50" y2="62.51" stroke="#6e6e6e" stroke-width="1.15" stroke-dasharray="1.3 0.6"/>
<line x1="689.50" y1="73.92" x2="696.50" y2="73.92" stroke="#6e6e6e" stroke-width="1.15" stroke-dasharray="1.3 0.6"/>
<line x1="689.50" y1="85.32" x2="696.50" y2="85.32" stroke="#6e6e6e" stroke-width="1.15" stroke-dasharray="1.3 0.6"/>
<line x1="689.50" y1="96.73" x2="696.50" y2="96.73" stroke="#6e6e6e" stroke-width="1.15" stroke-dasharray="1.3 0.6"/>
<line x1="689.50" y1="108.14" x2="696.50" y2="108.14" stroke="#6e6e6e" stroke-width="1.15" stroke-dasharray="1.3 0.6"/>
<line x1="689.50" y1="119.55" x2="696.50" y2="119.55" stroke="#6e6e6e" stroke-width="1.15" stroke-dasharray="1.3 0.6"/>
<line x1="689.50" y1="130.95" x2="696.50" y2="130.95" stroke="#6e6e6e" stroke-width="1.15" stroke-dasharray="1.3 0.6"/>
<line x1="689.50" y1="142.36" x2="696.50" y2="142.36" stroke="#6e6e6e" stroke-width="1.15" stroke-dasharray="1.3 0.6"/>
<line x1="689.50" y1="153.77" x2="696.50" y2="153.77" stroke="#6e6e6e" stroke-width="1.15" stroke-dasharray="1.3 0.6"/>
<line x1="685.50" y1="165.18" x2="700.50" y2="165.18" stroke="#6e6e6e" stroke-width="1.15" stroke-dasharray="1.3 0.6"/>
<line x1="689.50" y1="176.58" x2="696.50" y2="176.58" stroke="#6e6e6e" stroke-width="1.15" stroke-dasharray="1.3 0.6"/>
<line x1="689.50" y1="187.99" x2="696.50" y2="187.99" stroke="#6e6e6e" stroke-width="1.15" stroke-dasharray="1.3 0.6"/>
<line x1="689.50" y1="199.40" x2="696.50" y2="199.40" stroke="#6e6e6e" stroke-width="1.15" stroke-dasharray="1.3 0.6"/>
<line x1="689.50" y1="210.80" x2="696.50" y2="210.80" stroke="#6e6e6e" stroke-width="1.15" stroke-dasharray="1.3 0.6"/>
<line x1="689.50" y1="222.21" x2="696.50" y2="222.21" stroke="#6e6e6e" stroke-width="1.15" stroke-dasharray="1.3 0.6"/>
<line x1="689.50" y1="233.62" x2="696.50" y2="233.62" stroke="#6e6e6e" stroke-width="1.15" stroke-dasharray="1.3 0.6"/>
<line x1="689.50" y1="245.03" x2="696.50" y2="245.03" stroke="#6e6e6e" stroke-width="1.15" stroke-dasharray="1.3 0.6"/>
<line x1="689.50" y1="256.44" x2="696.50" y2="256.44" stroke="#6e6e6e" stroke-width="1.15" stroke-dasharray="1.3 0.6"/>
<line x1="689.50" y1="267.84" x2="696.50" y2="267.84" stroke="#6e6e6e" stroke-width="1.15" stroke-dasharray="1.3 0.6"/>
<line x1="685.50" y1="279.25" x2="700.50" y2="279.25" stroke="#6e6e6e" stroke-width="1.15" stroke-dasharray="1.3 0.6"/>
<line x1="689.50" y1="331.25" x2="696.50" y2="331.25" stroke="#6e6e6e" stroke-width="1.15" stroke-dasharray="1.3 0.6"/>
<line x1="685.50" y1="373.70" x2="700.50" y2="373.70" stroke="#6e6e6e" stroke-width="1.15" stroke-dasharray="1.3 0.6"/>
<line x1="689.50" y1="414.80" x2="696.50" y2="414.80" stroke="#6e6e6e" stroke-width="1.15" stroke-dasharray="1.3 0.6"/>
<line x1="685.50" y1="445.90" x2="700.50" y2="445.90" stroke="#6e6e6e" stroke-width="1.15" stroke-dasharray="1.3 0.6"/>
<line x1="685.50" y1="476.60" x2="700.50" y2="476.60" stroke="#6e6e6e" stroke-width="1.15" stroke-dasharray="1.3 0.6"/>
<line x1="685.50" y1="499.00" x2="700.50" y2="499.00" stroke="#6e6e6e" stroke-width="1.15" stroke-dasharray="1.3 0.6"/>
<rect x="684.15" y="404.50" width="17.70" height="103.50" fill="#120e16"/>
<rect x="683.65" y="359.80" width="18.70" height="4.90" fill="#120e16" rx="1.2"/>
<rect x="685.45" y="405.50" width="15.10" height="101.50" fill="#74a0dc"/>
<line x1="689.50" y1="414.80" x2="696.50" y2="414.80" stroke="#808080" stroke-width="1" stroke-dasharray="1.3 0.6" opacity="0.4"/>
<line x1="685.50" y1="445.90" x2="700.50" y2="445.90" stroke="#808080" stroke-width="1" stroke-dasharray="1.3 0.6" opacity="0.4"/>
<line x1="685.50" y1="476.60" x2="700.50" y2="476.60" stroke="#808080" stroke-width="1" stroke-dasharray="1.3 0.6" opacity="0.4"/>
<line x1="685.50" y1="499.00" x2="700.50" y2="499.00" stroke="#808080" stroke-width="1" stroke-dasharray="1.3 0.6" opacity="0.4"/>
<rect x="684.65" y="360.85" width="16.70" height="2.80" fill="#ffffff" rx="1.2"/>
<rect x="710.60" y="26.80" width="24.00" height="8.60" fill="#535353" rx="3"/>
<text transform="translate(722.60,34.10) scale(0.88,1)" fill="#f2f2f2" stroke="#f2f2f2" stroke-width="0.25" font-size="9.9" letter-spacing="0" text-anchor="middle">6</text>
<text transform="translate(722.60,44.30) scale(0.9,1)" fill="#f2f2f2" stroke="#f2f2f2" stroke-width="0.25" font-size="10" letter-spacing="0" text-anchor="middle">–32.6</text>
<rect x="711.70" y="48.20" width="22.40" height="461.50" rx="3.6" fill="#101010" stroke="#545454" stroke-width="1.8"/>
<rect x="715.50" y="49.40" width="14.80" height="459.10" fill="#222222" rx="1"/>
<rect x="710.60" y="151.17" width="2.20" height="5.20" fill="#292929"/>
<rect x="712.60" y="151.17" width="1.40" height="5.20" fill="#101010"/>
<path d="M711.70,150.57 l2.4,3.2 l-2.4,3.2" fill="none" stroke="#545454" stroke-width="1.8"/>
<line x1="715.40" y1="51.10" x2="730.40" y2="51.10" stroke="#6e6e6e" stroke-width="1.15" stroke-dasharray="1.3 0.6"/>
<line x1="719.40" y1="62.51" x2="726.40" y2="62.51" stroke="#6e6e6e" stroke-width="1.15" stroke-dasharray="1.3 0.6"/>
<line x1="719.40" y1="73.92" x2="726.40" y2="73.92" stroke="#6e6e6e" stroke-width="1.15" stroke-dasharray="1.3 0.6"/>
<line x1="719.40" y1="85.32" x2="726.40" y2="85.32" stroke="#6e6e6e" stroke-width="1.15" stroke-dasharray="1.3 0.6"/>
<line x1="719.40" y1="96.73" x2="726.40" y2="96.73" stroke="#6e6e6e" stroke-width="1.15" stroke-dasharray="1.3 0.6"/>
<line x1="719.40" y1="108.14" x2="726.40" y2="108.14" stroke="#6e6e6e" stroke-width="1.15" stroke-dasharray="1.3 0.6"/>
<line x1="719.40" y1="119.55" x2="726.40" y2="119.55" stroke="#6e6e6e" stroke-width="1.15" stroke-dasharray="1.3 0.6"/>
<line x1="719.40" y1="130.95" x2="726.40" y2="130.95" stroke="#6e6e6e" stroke-width="1.15" stroke-dasharray="1.3 0.6"/>
<line x1="719.40" y1="142.36" x2="726.40" y2="142.36" stroke="#6e6e6e" stroke-width="1.15" stroke-dasharray="1.3 0.6"/>
<line x1="719.40" y1="153.77" x2="726.40" y2="153.77" stroke="#6e6e6e" stroke-width="1.15" stroke-dasharray="1.3 0.6"/>
<line x1="715.40" y1="165.18" x2="730.40" y2="165.18" stroke="#6e6e6e" stroke-width="1.15" stroke-dasharray="1.3 0.6"/>
<line x1="719.40" y1="176.58" x2="726.40" y2="176.58" stroke="#6e6e6e" stroke-width="1.15" stroke-dasharray="1.3 0.6"/>
<line x1="719.40" y1="187.99" x2="726.40" y2="187.99" stroke="#6e6e6e" stroke-width="1.15" stroke-dasharray="1.3 0.6"/>
<line x1="719.40" y1="199.40" x2="726.40" y2="199.40" stroke="#6e6e6e" stroke-width="1.15" stroke-dasharray="1.3 0.6"/>
<line x1="719.40" y1="210.80" x2="726.40" y2="210.80" stroke="#6e6e6e" stroke-width="1.15" stroke-dasharray="1.3 0.6"/>
<line x1="719.40" y1="222.21" x2="726.40" y2="222.21" stroke="#6e6e6e" stroke-width="1.15" stroke-dasharray="1.3 0.6"/>
<line x1="719.40" y1="233.62" x2="726.40" y2="233.62" stroke="#6e6e6e" stroke-width="1.15" stroke-dasharray="1.3 0.6"/>
<line x1="719.40" y1="245.03" x2="726.40" y2="245.03" stroke="#6e6e6e" stroke-width="1.15" stroke-dasharray="1.3 0.6"/>
<line x1="719.40" y1="256.44" x2="726.40" y2="256.44" stroke="#6e6e6e" stroke-width="1.15" stroke-dasharray="1.3 0.6"/>
<line x1="719.40" y1="267.84" x2="726.40" y2="267.84" stroke="#6e6e6e" stroke-width="1.15" stroke-dasharray="1.3 0.6"/>
<line x1="715.40" y1="279.25" x2="730.40" y2="279.25" stroke="#6e6e6e" stroke-width="1.15" stroke-dasharray="1.3 0.6"/>
<line x1="719.40" y1="331.25" x2="726.40" y2="331.25" stroke="#6e6e6e" stroke-width="1.15" stroke-dasharray="1.3 0.6"/>
<line x1="715.40" y1="373.70" x2="730.40" y2="373.70" stroke="#6e6e6e" stroke-width="1.15" stroke-dasharray="1.3 0.6"/>
<line x1="719.40" y1="414.80" x2="726.40" y2="414.80" stroke="#6e6e6e" stroke-width="1.15" stroke-dasharray="1.3 0.6"/>
<line x1="715.40" y1="445.90" x2="730.40" y2="445.90" stroke="#6e6e6e" stroke-width="1.15" stroke-dasharray="1.3 0.6"/>
<line x1="715.40" y1="476.60" x2="730.40" y2="476.60" stroke="#6e6e6e" stroke-width="1.15" stroke-dasharray="1.3 0.6"/>
<line x1="715.40" y1="499.00" x2="730.40" y2="499.00" stroke="#6e6e6e" stroke-width="1.15" stroke-dasharray="1.3 0.6"/>
<rect x="714.05" y="379.70" width="17.70" height="128.30" fill="#120e16"/>
<rect x="713.55" y="349.50" width="18.70" height="4.90" fill="#120e16" rx="1.2"/>
<rect x="715.35" y="380.70" width="15.10" height="126.30" fill="#a6ce34"/>
<line x1="719.40" y1="414.80" x2="726.40" y2="414.80" stroke="#808080" stroke-width="1" stroke-dasharray="1.3 0.6" opacity="0.4"/>
<line x1="715.40" y1="445.90" x2="730.40" y2="445.90" stroke="#808080" stroke-width="1" stroke-dasharray="1.3 0.6" opacity="0.4"/>
<line x1="715.40" y1="476.60" x2="730.40" y2="476.60" stroke="#808080" stroke-width="1" stroke-dasharray="1.3 0.6" opacity="0.4"/>
<line x1="715.40" y1="499.00" x2="730.40" y2="499.00" stroke="#808080" stroke-width="1" stroke-dasharray="1.3 0.6" opacity="0.4"/>
<rect x="714.55" y="350.55" width="16.70" height="2.80" fill="#ffffff" rx="1.2"/>
<rect x="740.50" y="26.80" width="24.00" height="8.60" fill="#535353" rx="3"/>
<text transform="translate(752.50,34.10) scale(0.88,1)" fill="#f2f2f2" stroke="#f2f2f2" stroke-width="0.25" font-size="9.9" letter-spacing="0" text-anchor="middle">7</text>
<text transform="translate(752.50,44.30) scale(0.9,1)" fill="#f2f2f2" stroke="#f2f2f2" stroke-width="0.25" font-size="10" letter-spacing="0" text-anchor="middle">–21.3</text>
<rect x="741.60" y="48.20" width="22.40" height="461.50" rx="3.6" fill="#101010" stroke="#545454" stroke-width="1.8"/>
<rect x="745.40" y="49.40" width="14.80" height="459.10" fill="#222222" rx="1"/>
<rect x="740.50" y="151.17" width="2.20" height="5.20" fill="#292929"/>
<rect x="742.50" y="151.17" width="1.40" height="5.20" fill="#101010"/>
<path d="M741.60,150.57 l2.4,3.2 l-2.4,3.2" fill="none" stroke="#545454" stroke-width="1.8"/>
<line x1="745.30" y1="51.10" x2="760.30" y2="51.10" stroke="#6e6e6e" stroke-width="1.15" stroke-dasharray="1.3 0.6"/>
<line x1="749.30" y1="62.51" x2="756.30" y2="62.51" stroke="#6e6e6e" stroke-width="1.15" stroke-dasharray="1.3 0.6"/>
<line x1="749.30" y1="73.92" x2="756.30" y2="73.92" stroke="#6e6e6e" stroke-width="1.15" stroke-dasharray="1.3 0.6"/>
<line x1="749.30" y1="85.32" x2="756.30" y2="85.32" stroke="#6e6e6e" stroke-width="1.15" stroke-dasharray="1.3 0.6"/>
<line x1="749.30" y1="96.73" x2="756.30" y2="96.73" stroke="#6e6e6e" stroke-width="1.15" stroke-dasharray="1.3 0.6"/>
<line x1="749.30" y1="108.14" x2="756.30" y2="108.14" stroke="#6e6e6e" stroke-width="1.15" stroke-dasharray="1.3 0.6"/>
<line x1="749.30" y1="119.55" x2="756.30" y2="119.55" stroke="#6e6e6e" stroke-width="1.15" stroke-dasharray="1.3 0.6"/>
<line x1="749.30" y1="130.95" x2="756.30" y2="130.95" stroke="#6e6e6e" stroke-width="1.15" stroke-dasharray="1.3 0.6"/>
<line x1="749.30" y1="142.36" x2="756.30" y2="142.36" stroke="#6e6e6e" stroke-width="1.15" stroke-dasharray="1.3 0.6"/>
<line x1="749.30" y1="153.77" x2="756.30" y2="153.77" stroke="#6e6e6e" stroke-width="1.15" stroke-dasharray="1.3 0.6"/>
<line x1="745.30" y1="165.18" x2="760.30" y2="165.18" stroke="#6e6e6e" stroke-width="1.15" stroke-dasharray="1.3 0.6"/>
<line x1="749.30" y1="176.58" x2="756.30" y2="176.58" stroke="#6e6e6e" stroke-width="1.15" stroke-dasharray="1.3 0.6"/>
<line x1="749.30" y1="187.99" x2="756.30" y2="187.99" stroke="#6e6e6e" stroke-width="1.15" stroke-dasharray="1.3 0.6"/>
<line x1="749.30" y1="199.40" x2="756.30" y2="199.40" stroke="#6e6e6e" stroke-width="1.15" stroke-dasharray="1.3 0.6"/>
<line x1="749.30" y1="210.80" x2="756.30" y2="210.80" stroke="#6e6e6e" stroke-width="1.15" stroke-dasharray="1.3 0.6"/>
<line x1="749.30" y1="222.21" x2="756.30" y2="222.21" stroke="#6e6e6e" stroke-width="1.15" stroke-dasharray="1.3 0.6"/>
<line x1="749.30" y1="233.62" x2="756.30" y2="233.62" stroke="#6e6e6e" stroke-width="1.15" stroke-dasharray="1.3 0.6"/>
<line x1="749.30" y1="245.03" x2="756.30" y2="245.03" stroke="#6e6e6e" stroke-width="1.15" stroke-dasharray="1.3 0.6"/>
<line x1="749.30" y1="256.44" x2="756.30" y2="256.44" stroke="#6e6e6e" stroke-width="1.15" stroke-dasharray="1.3 0.6"/>
<line x1="749.30" y1="267.84" x2="756.30" y2="267.84" stroke="#6e6e6e" stroke-width="1.15" stroke-dasharray="1.3 0.6"/>
<line x1="745.30" y1="279.25" x2="760.30" y2="279.25" stroke="#6e6e6e" stroke-width="1.15" stroke-dasharray="1.3 0.6"/>
<line x1="749.30" y1="331.25" x2="756.30" y2="331.25" stroke="#6e6e6e" stroke-width="1.15" stroke-dasharray="1.3 0.6"/>
<line x1="745.30" y1="373.70" x2="760.30" y2="373.70" stroke="#6e6e6e" stroke-width="1.15" stroke-dasharray="1.3 0.6"/>
<line x1="749.30" y1="414.80" x2="756.30" y2="414.80" stroke="#6e6e6e" stroke-width="1.15" stroke-dasharray="1.3 0.6"/>
<line x1="745.30" y1="445.90" x2="760.30" y2="445.90" stroke="#6e6e6e" stroke-width="1.15" stroke-dasharray="1.3 0.6"/>
<line x1="745.30" y1="476.60" x2="760.30" y2="476.60" stroke="#6e6e6e" stroke-width="1.15" stroke-dasharray="1.3 0.6"/>
<line x1="745.30" y1="499.00" x2="760.30" y2="499.00" stroke="#6e6e6e" stroke-width="1.15" stroke-dasharray="1.3 0.6"/>
<rect x="743.95" y="295.00" width="17.70" height="213.00" fill="#120e16"/>
<rect x="743.45" y="246.10" width="18.70" height="4.90" fill="#120e16" rx="1.2"/>
<rect x="745.25" y="296.00" width="15.10" height="211.00" fill="#4f6dbd"/>
<line x1="749.30" y1="331.25" x2="756.30" y2="331.25" stroke="#808080" stroke-width="1" stroke-dasharray="1.3 0.6" opacity="0.4"/>
<line x1="745.30" y1="373.70" x2="760.30" y2="373.70" stroke="#808080" stroke-width="1" stroke-dasharray="1.3 0.6" opacity="0.4"/>
<line x1="749.30" y1="414.80" x2="756.30" y2="414.80" stroke="#808080" stroke-width="1" stroke-dasharray="1.3 0.6" opacity="0.4"/>
<line x1="745.30" y1="445.90" x2="760.30" y2="445.90" stroke="#808080" stroke-width="1" stroke-dasharray="1.3 0.6" opacity="0.4"/>
<line x1="745.30" y1="476.60" x2="760.30" y2="476.60" stroke="#808080" stroke-width="1" stroke-dasharray="1.3 0.6" opacity="0.4"/>
<line x1="745.30" y1="499.00" x2="760.30" y2="499.00" stroke="#808080" stroke-width="1" stroke-dasharray="1.3 0.6" opacity="0.4"/>
<rect x="744.45" y="247.15" width="16.70" height="2.80" fill="#ffffff" rx="1.2"/>
<rect x="770.40" y="26.80" width="24.00" height="8.60" fill="#535353" rx="3"/>
<text transform="translate(782.40,34.10) scale(0.88,1)" fill="#f2f2f2" stroke="#f2f2f2" stroke-width="0.25" font-size="9.9" letter-spacing="0" text-anchor="middle">8</text>
<text transform="translate(782.40,44.30) scale(0.9,1)" fill="#f2f2f2" stroke="#f2f2f2" stroke-width="0.25" font-size="10" letter-spacing="0" text-anchor="middle">–23.9</text>
<rect x="771.50" y="48.20" width="22.40" height="461.50" rx="3.6" fill="#101010" stroke="#545454" stroke-width="1.8"/>
<rect x="775.30" y="49.40" width="14.80" height="459.10" fill="#222222" rx="1"/>
<rect x="770.40" y="151.17" width="2.20" height="5.20" fill="#292929"/>
<rect x="772.40" y="151.17" width="1.40" height="5.20" fill="#101010"/>
<path d="M771.50,150.57 l2.4,3.2 l-2.4,3.2" fill="none" stroke="#545454" stroke-width="1.8"/>
<line x1="775.20" y1="51.10" x2="790.20" y2="51.10" stroke="#6e6e6e" stroke-width="1.15" stroke-dasharray="1.3 0.6"/>
<line x1="779.20" y1="62.51" x2="786.20" y2="62.51" stroke="#6e6e6e" stroke-width="1.15" stroke-dasharray="1.3 0.6"/>
<line x1="779.20" y1="73.92" x2="786.20" y2="73.92" stroke="#6e6e6e" stroke-width="1.15" stroke-dasharray="1.3 0.6"/>
<line x1="779.20" y1="85.32" x2="786.20" y2="85.32" stroke="#6e6e6e" stroke-width="1.15" stroke-dasharray="1.3 0.6"/>
<line x1="779.20" y1="96.73" x2="786.20" y2="96.73" stroke="#6e6e6e" stroke-width="1.15" stroke-dasharray="1.3 0.6"/>
<line x1="779.20" y1="108.14" x2="786.20" y2="108.14" stroke="#6e6e6e" stroke-width="1.15" stroke-dasharray="1.3 0.6"/>
<line x1="779.20" y1="119.55" x2="786.20" y2="119.55" stroke="#6e6e6e" stroke-width="1.15" stroke-dasharray="1.3 0.6"/>
<line x1="779.20" y1="130.95" x2="786.20" y2="130.95" stroke="#6e6e6e" stroke-width="1.15" stroke-dasharray="1.3 0.6"/>
<line x1="779.20" y1="142.36" x2="786.20" y2="142.36" stroke="#6e6e6e" stroke-width="1.15" stroke-dasharray="1.3 0.6"/>
<line x1="779.20" y1="153.77" x2="786.20" y2="153.77" stroke="#6e6e6e" stroke-width="1.15" stroke-dasharray="1.3 0.6"/>
<line x1="775.20" y1="165.18" x2="790.20" y2="165.18" stroke="#6e6e6e" stroke-width="1.15" stroke-dasharray="1.3 0.6"/>
<line x1="779.20" y1="176.58" x2="786.20" y2="176.58" stroke="#6e6e6e" stroke-width="1.15" stroke-dasharray="1.3 0.6"/>
<line x1="779.20" y1="187.99" x2="786.20" y2="187.99" stroke="#6e6e6e" stroke-width="1.15" stroke-dasharray="1.3 0.6"/>
<line x1="779.20" y1="199.40" x2="786.20" y2="199.40" stroke="#6e6e6e" stroke-width="1.15" stroke-dasharray="1.3 0.6"/>
<line x1="779.20" y1="210.80" x2="786.20" y2="210.80" stroke="#6e6e6e" stroke-width="1.15" stroke-dasharray="1.3 0.6"/>
<line x1="779.20" y1="222.21" x2="786.20" y2="222.21" stroke="#6e6e6e" stroke-width="1.15" stroke-dasharray="1.3 0.6"/>
<line x1="779.20" y1="233.62" x2="786.20" y2="233.62" stroke="#6e6e6e" stroke-width="1.15" stroke-dasharray="1.3 0.6"/>
<line x1="779.20" y1="245.03" x2="786.20" y2="245.03" stroke="#6e6e6e" stroke-width="1.15" stroke-dasharray="1.3 0.6"/>
<line x1="779.20" y1="256.44" x2="786.20" y2="256.44" stroke="#6e6e6e" stroke-width="1.15" stroke-dasharray="1.3 0.6"/>
<line x1="779.20" y1="267.84" x2="786.20" y2="267.84" stroke="#6e6e6e" stroke-width="1.15" stroke-dasharray="1.3 0.6"/>
<line x1="775.20" y1="279.25" x2="790.20" y2="279.25" stroke="#6e6e6e" stroke-width="1.15" stroke-dasharray="1.3 0.6"/>
<line x1="779.20" y1="331.25" x2="786.20" y2="331.25" stroke="#6e6e6e" stroke-width="1.15" stroke-dasharray="1.3 0.6"/>
<line x1="775.20" y1="373.70" x2="790.20" y2="373.70" stroke="#6e6e6e" stroke-width="1.15" stroke-dasharray="1.3 0.6"/>
<line x1="779.20" y1="414.80" x2="786.20" y2="414.80" stroke="#6e6e6e" stroke-width="1.15" stroke-dasharray="1.3 0.6"/>
<line x1="775.20" y1="445.90" x2="790.20" y2="445.90" stroke="#6e6e6e" stroke-width="1.15" stroke-dasharray="1.3 0.6"/>
<line x1="775.20" y1="476.60" x2="790.20" y2="476.60" stroke="#6e6e6e" stroke-width="1.15" stroke-dasharray="1.3 0.6"/>
<line x1="775.20" y1="499.00" x2="790.20" y2="499.00" stroke="#6e6e6e" stroke-width="1.15" stroke-dasharray="1.3 0.6"/>
<rect x="773.85" y="308.60" width="17.70" height="199.40" fill="#120e16"/>
<rect x="773.35" y="286.10" width="18.70" height="4.90" fill="#120e16" rx="1.2"/>
<rect x="775.15" y="309.60" width="15.10" height="197.40" fill="#f8ec1e"/>
<line x1="779.20" y1="331.25" x2="786.20" y2="331.25" stroke="#808080" stroke-width="1" stroke-dasharray="1.3 0.6" opacity="0.4"/>
<line x1="775.20" y1="373.70" x2="790.20" y2="373.70" stroke="#808080" stroke-width="1" stroke-dasharray="1.3 0.6" opacity="0.4"/>
<line x1="779.20" y1="414.80" x2="786.20" y2="414.80" stroke="#808080" stroke-width="1" stroke-dasharray="1.3 0.6" opacity="0.4"/>
<line x1="775.20" y1="445.90" x2="790.20" y2="445.90" stroke="#808080" stroke-width="1" stroke-dasharray="1.3 0.6" opacity="0.4"/>
<line x1="775.20" y1="476.60" x2="790.20" y2="476.60" stroke="#808080" stroke-width="1" stroke-dasharray="1.3 0.6" opacity="0.4"/>
<line x1="775.20" y1="499.00" x2="790.20" y2="499.00" stroke="#808080" stroke-width="1" stroke-dasharray="1.3 0.6" opacity="0.4"/>
<rect x="774.35" y="287.15" width="16.70" height="2.80" fill="#ffffff" rx="1.2"/>
</svg>
</body></html>
